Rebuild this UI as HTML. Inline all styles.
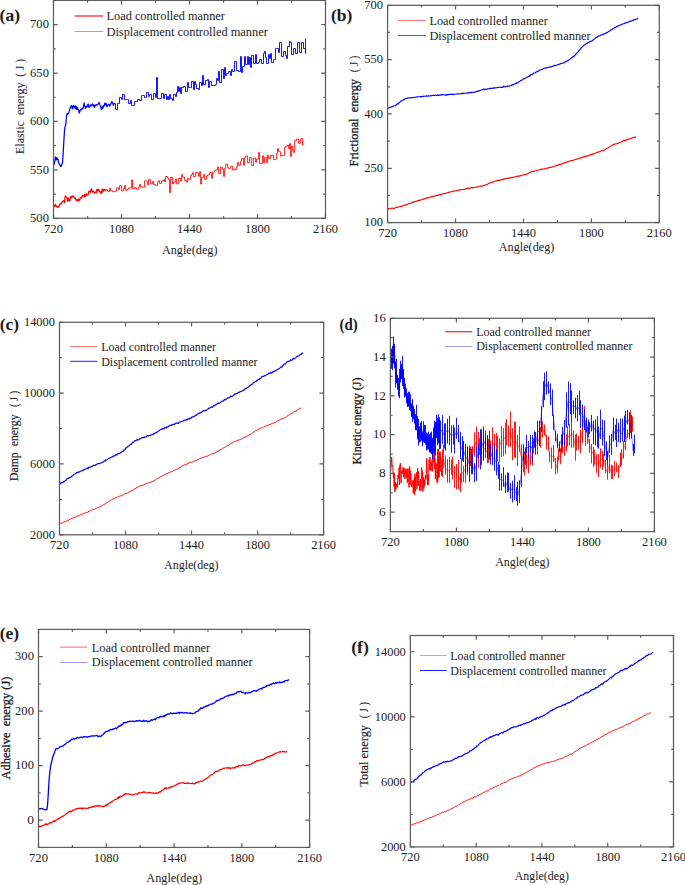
<!DOCTYPE html>
<html><head><meta charset="utf-8"><style>html,body{margin:0;padding:0;background:#fff;}svg{display:block;}</style></head>
<body><svg width="685" height="885" viewBox="0 0 685 885" font-family="&quot;Liberation Serif&quot;, serif" fill="#1c1c1c">
<rect width="685" height="885" fill="#fff"/>
<path d="M54.1 205.1 54.6 206.2 55.0 206.3 55.5 204.4 55.9 206.1 56.4 206.7 56.8 205.8 57.3 206.8 57.7 207.2 58.2 207.4 58.6 206.6 59.1 206.7 59.5 204.9 60.0 204.4 60.4 203.5 60.9 204.2 61.3 203.7 61.8 202.8 62.2 201.5 62.7 201.2 63.1 201.2 63.6 200.7 64.0 202.2 64.5 202.6 64.9 197.8 65.4 195.9 65.8 196.7 66.3 196.8 66.7 197.8 67.2 198.4 67.6 201.2 68.1 198.6 68.5 198.0 69.0 200.8 69.4 200.6 69.9 200.4 70.3 198.8 70.8 196.3 71.2 197.2 71.7 197.6 72.1 196.0 72.6 195.9 73.0 196.8 73.5 196.2 73.9 197.1 74.4 197.9 74.8 198.4 75.3 198.0 75.7 199.3 76.2 200.6 76.6 200.6 77.1 199.3 77.5 200.5 78.0 199.7 78.4 201.1 78.9 199.2 79.3 200.4 79.8 199.8 80.2 197.7 80.7 197.5 81.1 197.8 81.6 198.1 82.0 196.5 82.5 195.3 82.9 196.1 83.4 195.6 83.8 196.1 84.3 196.9 84.7 194.2 85.2 194.9 85.6 196.4 86.1 195.3 86.5 193.8 87.0 194.8 87.4 194.6 87.9 195.2 88.3 193.8 88.8 191.3 89.2 191.5 89.7 191.1 90.1 192.3 90.6 192.1 91.0 189.6 91.5 188.8 91.9 191.0 92.4 192.1 92.8 191.0 93.3 191.2 93.7 191.9 94.2 192.4 94.6 193.2 95.1 192.8 95.5 192.2 96.0 191.6 96.4 192.9 96.9 189.4 97.3 190.1 97.8 190.7 98.2 189.2 98.7 190.5 99.1 190.1 99.6 191.8 100.0 191.5 100.5 192.4 100.9 193.6 101.4 193.1 101.8 191.0 102.3 188.9 102.7 191.8 103.2 191.0 103.6 189.7 104.1 189.9 104.5 189.5 105.0 190.6 105.4 190.2 105.9 189.9 107.3 189.9" stroke="#ff0000" stroke-width="1.25" fill="none" stroke-linejoin="round"/>
<path d="M107.6 189.9 107.6 191.2 108.6 191.2 108.6 191.7 109.6 191.7 109.6 188.2 110.6 188.2 110.6 190.7 112.6 190.7 112.6 191.7 114.6 191.7 114.6 191.2 116.6 191.2 116.6 187.9 118.6 187.9 118.6 189.6 119.6 189.6 119.6 185.7 121.6 185.7 121.6 191.0 123.6 191.0 123.6 188.7 124.6 188.7 124.6 185.6 125.6 185.6 125.6 190.3 127.6 190.3 127.6 188.9 128.6 188.9 128.6 187.9 129.6 187.9 129.6 188.1 131.6 188.1 131.6 179.9 132.6 179.9 132.6 188.8 134.6 188.8 134.6 187.5 135.6 187.5 135.6 188.3 136.6 188.3 136.6 189.2 138.6 189.2 138.6 186.9 139.6 186.9 139.6 184.5 140.6 184.5 140.6 187.0 142.6 187.0 142.6 187.2 144.6 187.2 144.6 180.9 146.6 180.9 146.6 181.2 147.6 181.2 147.6 184.9 148.6 184.9 148.6 179.7 150.6 179.7 150.6 183.8 152.6 183.8 152.6 181.4 153.6 181.4 153.6 184.6 155.6 184.6 155.6 185.3 157.6 185.3 157.6 181.8 158.6 181.8 158.6 180.8 159.6 180.8 159.6 183.4 161.6 183.4 161.6 180.9 163.6 180.9 163.6 179.6 164.6 179.6 164.6 181.7 165.6 181.7 165.6 176.5 167.6 176.5 167.6 178.0 168.6 178.0 168.6 179.5 169.6 179.5 169.6 192.7 170.6 192.7 170.6 177.5 172.6 177.5 172.6 184.0 173.6 184.0 173.6 182.2 175.6 182.2 175.6 178.9 176.6 178.9 176.6 183.8 178.6 183.8 178.6 178.3 180.6 178.3 180.6 181.1 181.6 181.1 181.6 174.5 182.6 174.5 182.6 177.2 184.6 177.2 184.6 180.4 186.6 180.4 186.6 182.2 187.6 182.2 187.6 178.3 188.6 178.3 188.6 179.3 189.6 179.3 189.6 179.7 190.6 179.7 190.6 175.4 191.6 175.4 191.6 174.3 192.6 174.3 192.6 172.7 193.6 172.7 193.6 176.6 195.6 176.6 195.6 172.5 197.6 172.5 197.6 173.0 198.6 173.0 198.6 176.3 199.6 176.3 199.6 171.7 200.6 171.7 200.6 184.0 201.6 184.0 201.6 177.3 203.6 177.3 203.6 174.6 204.6 174.6 204.6 179.3 206.6 179.3 206.6 175.8 207.6 175.8 207.6 174.9 209.6 174.9 209.6 172.5 211.6 172.5 211.6 178.1 212.6 178.1 212.6 172.1 214.6 172.1 214.6 170.9 215.6 170.9 215.6 170.0 217.6 170.0 217.6 167.0 218.6 167.0 218.6 173.7 220.6 173.7 220.6 167.0 221.6 167.0 221.6 167.2 222.6 167.2 222.6 169.5 223.6 169.5 223.6 176.4 224.6 176.4 224.6 168.6 225.6 168.6 225.6 164.1 227.6 164.1 227.6 167.6 228.6 167.6 228.6 168.4 230.6 168.4 230.6 166.2 232.6 166.2 232.6 170.0 234.6 170.0 234.6 168.9 235.6 168.9 235.6 169.4 236.6 169.4 236.6 166.4 237.6 166.4 237.6 162.4 238.6 162.4 238.6 165.3 240.6 165.3 240.6 161.1 241.6 161.1 241.6 158.2 242.6 158.2 242.6 158.5 243.6 158.5 243.6 165.2 244.6 165.2 244.6 157.5 245.6 157.5 245.6 156.0 247.6 156.0 247.6 162.8 249.6 162.8 249.6 157.6 251.6 157.6 251.6 165.6 253.6 165.6 253.6 158.0 255.6 158.0 255.6 162.2 256.6 162.2 256.6 159.1 258.6 159.1 258.6 152.4 259.6 152.4 259.6 163.7 261.6 163.7 261.6 163.6 262.6 163.6 262.6 155.8 263.6 155.8 263.6 162.7 264.6 162.7 264.6 157.4 266.6 157.4 266.6 162.8 267.6 162.8 267.6 155.1 268.6 155.1 268.6 158.6 270.6 158.6 270.6 155.5 272.6 155.5 272.6 155.6 273.6 155.6 273.6 159.6 275.6 159.6 275.6 158.9 276.6 158.9 276.6 153.5 277.6 153.5 277.6 148.7 278.6 148.7 278.6 151.7 280.6 151.7 280.6 156.0 281.6 156.0 281.6 155.7 282.6 155.7 282.6 155.2 283.6 155.2 283.6 155.4 284.6 155.4 284.6 147.3 285.6 147.3 285.6 146.2 287.6 146.2 287.6 145.1 288.6 145.1 288.6 148.7 289.6 148.7 289.6 143.7 290.6 143.7 290.6 156.4 291.6 156.4 291.6 146.2 292.6 146.2 292.6 150.2 293.6 150.2 293.6 152.4 294.6 152.4 294.6 140.6 296.6 140.6 296.6 139.0 298.6 139.0 298.6 143.4 299.6 143.4 299.6 142.8 300.6 142.8 300.6 138.7 302.6 138.7 302.6 145.1 302.8 145.1 302.8 142.1" stroke="#ff0000" stroke-width="0.85" fill="none" stroke-linejoin="miter"/>
<path d="M54.0 164.9 54.5 162.8 54.9 161.0 55.4 156.8 55.8 159.4 56.3 159.8 56.7 157.7 57.2 158.3 57.6 159.5 58.1 159.6 58.5 162.3 59.0 163.1 59.4 164.2 59.9 165.0 60.3 166.3 60.8 165.7 61.2 166.0 61.7 164.5 62.1 164.3 62.6 161.9 63.0 155.6 63.5 147.8 63.9 139.9 64.4 132.6 64.8 127.7 65.3 125.9 65.7 125.1 66.2 119.2 66.6 115.7 67.1 113.3 67.5 114.3 68.0 113.5 68.4 113.7 68.9 112.8 69.3 111.0 69.8 109.5 70.2 107.5 70.7 107.8 71.1 105.9 71.6 105.6 72.0 106.4 72.5 108.9 72.9 107.1 73.4 105.6 73.8 105.4 74.3 107.3 74.7 106.9 75.2 108.7 75.6 105.8 76.1 108.1 76.5 109.4 77.0 107.0 77.4 107.8 77.9 109.7 78.3 109.4 78.8 110.5 79.2 113.1 79.7 111.9 80.1 110.6 80.6 109.3 81.0 110.1 81.5 109.2 81.9 108.7 82.4 108.3 82.8 109.0 83.3 107.1 83.7 105.2 84.2 102.8 84.6 106.0 85.1 106.3 85.5 108.4 86.0 107.7 86.4 106.2 86.9 106.9 87.3 106.5 87.8 104.7 88.2 104.0 88.7 107.1 89.1 107.0 89.6 107.0 90.0 106.0 90.5 104.8 90.9 106.1 91.4 105.7 91.8 104.6 92.3 104.8 92.7 103.9 93.2 104.8 93.6 106.6 94.1 105.1 94.5 107.1 95.0 105.6 95.4 105.8 95.9 104.7 96.3 104.8 96.8 105.2 97.2 104.8 97.7 104.3 98.1 104.0 98.6 103.6 99.0 102.4 99.5 103.4 99.9 104.9 100.4 106.4 100.8 107.0 101.3 109.7 101.7 108.5 102.2 106.7 102.6 108.7 103.1 106.0 103.5 107.0 104.0 105.1 104.4 105.6 104.9 102.9 105.3 104.9 105.8 104.8 106.2 103.6 106.7 106.3 107.1 106.7 107.6 106.0 108.0 104.6 108.5 104.6 108.9 104.4 109.4 105.4 109.8 106.1 110.3 104.6 110.7 103.8 111.2 103.3 111.6 101.9 112.1 101.9 112.5 102.5 113.0 103.8 113.4 105.4 113.9 103.5 115.3 103.5" stroke="#0000ff" stroke-width="1.25" fill="none" stroke-linejoin="round"/>
<path d="M115.5 103.5 115.5 109.5 117.5 109.5 117.5 103.5 119.5 103.5 119.5 97.5 121.5 97.5 121.5 99.5 122.5 99.5 122.5 94.5 124.5 94.5 124.5 99.5 126.5 99.5 126.5 99.5 127.5 99.5 127.5 99.5 128.5 99.5 128.5 103.5 130.5 103.5 130.5 100.5 131.5 100.5 131.5 105.5 132.5 105.5 132.5 105.5 134.5 105.5 134.5 101.5 135.5 101.5 135.5 101.5 137.5 101.5 137.5 99.5 139.5 99.5 139.5 100.5 141.5 100.5 141.5 95.5 142.5 95.5 142.5 95.5 144.5 95.5 144.5 97.5 145.5 97.5 145.5 97.5 146.5 97.5 146.5 92.5 148.5 92.5 148.5 96.5 149.5 96.5 149.5 94.5 151.5 94.5 151.5 99.5 153.5 99.5 153.5 93.5 155.5 93.5 155.5 97.5 156.5 97.5 156.5 77.5 157.5 77.5 157.5 98.5 159.5 98.5 159.5 98.5 161.5 98.5 161.5 93.5 163.5 93.5 163.5 98.5 164.5 98.5 164.5 94.5 166.5 94.5 166.5 99.5 167.5 99.5 167.5 96.5 168.5 96.5 168.5 99.5 169.5 99.5 169.5 94.5 170.5 94.5 170.5 98.5 172.5 98.5 172.5 100.5 173.5 100.5 173.5 94.5 175.5 94.5 175.5 96.5 176.5 96.5 176.5 92.5 177.5 92.5 177.5 86.5 178.5 86.5 178.5 91.5 179.5 91.5 179.5 87.5 180.5 87.5 180.5 93.5 181.5 93.5 181.5 87.5 183.5 87.5 183.5 86.5 185.5 86.5 185.5 91.5 187.5 91.5 187.5 82.5 188.5 82.5 188.5 87.5 190.5 87.5 190.5 87.5 191.5 87.5 191.5 81.5 193.5 81.5 193.5 89.5 194.5 89.5 194.5 81.5 195.5 81.5 195.5 84.5 196.5 84.5 196.5 88.5 198.5 88.5 198.5 89.5 199.5 89.5 199.5 82.5 201.5 82.5 201.5 85.5 202.5 85.5 202.5 75.5 203.5 75.5 203.5 84.5 205.5 84.5 205.5 80.5 207.5 80.5 207.5 79.5 208.5 79.5 208.5 87.5 209.5 87.5 209.5 81.5 211.5 81.5 211.5 85.5 213.5 85.5 213.5 85.5 215.5 85.5 215.5 84.5 216.5 84.5 216.5 78.5 217.5 78.5 217.5 80.5 218.5 80.5 218.5 71.5 219.5 71.5 219.5 82.5 221.5 82.5 221.5 69.5 223.5 69.5 223.5 78.5 224.5 78.5 224.5 67.5 225.5 67.5 225.5 75.5 226.5 75.5 226.5 73.5 228.5 73.5 228.5 71.5 230.5 71.5 230.5 75.5 231.5 75.5 231.5 69.5 232.5 69.5 232.5 71.5 234.5 71.5 234.5 61.5 236.5 61.5 236.5 70.5 238.5 70.5 238.5 71.5 240.5 71.5 240.5 56.5 241.5 56.5 241.5 72.5 242.5 72.5 242.5 66.5 244.5 66.5 244.5 56.5 245.5 56.5 245.5 64.5 247.5 64.5 247.5 56.5 248.5 56.5 248.5 64.5 249.5 64.5 249.5 57.5 250.5 57.5 250.5 67.5 251.5 67.5 251.5 55.5 253.5 55.5 253.5 63.5 255.5 63.5 255.5 54.5 256.5 54.5 256.5 63.5 258.5 63.5 258.5 62.5 259.5 62.5 259.5 59.5 261.5 59.5 261.5 63.5 263.5 63.5 263.5 53.5 264.5 53.5 264.5 51.5 265.5 51.5 265.5 57.5 266.5 57.5 266.5 63.5 268.5 63.5 268.5 54.5 269.5 54.5 269.5 58.5 270.5 58.5 270.5 53.5 271.5 53.5 271.5 62.5 273.5 62.5 273.5 59.5 275.5 59.5 275.5 48.5 276.5 48.5 276.5 48.5 278.5 48.5 278.5 52.5 279.5 52.5 279.5 42.5 281.5 42.5 281.5 56.5 283.5 56.5 283.5 51.5 285.5 51.5 285.5 55.5 286.5 55.5 286.5 58.5 287.5 58.5 287.5 46.5 289.5 46.5 289.5 41.5 290.5 41.5 290.5 42.5 291.5 42.5 291.5 54.5 293.5 54.5 293.5 48.5 295.5 48.5 295.5 53.5 297.5 53.5 297.5 42.5 299.5 42.5 299.5 52.5 301.5 52.5 301.5 42.5 303.5 42.5 303.5 48.5 305.5 48.5 305.5 53.5 305.5 53.5 305.5 38.5" stroke="#0000ff" stroke-width="0.9" fill="none" stroke-linejoin="miter"/>
<path d="M387.6 209.5 388.3 208.5 389.0 209.1 389.7 208.8 390.4 208.7 391.1 208.6 391.8 208.1 392.5 208.3 393.2 208.1 393.9 208.8 394.6 208.0 395.3 207.8 396.0 207.6 396.7 207.4 397.4 207.1 398.1 207.1 398.8 207.0 399.5 206.7 400.2 206.7 400.9 206.3 401.6 206.1 402.3 206.2 403.0 205.7 403.7 205.3 404.4 205.1 405.1 205.0 405.8 205.1 406.5 204.4 407.2 204.2 407.9 204.2 408.6 203.6 409.3 203.5 410.0 203.5 410.7 203.2 411.4 202.9 412.1 202.7 412.8 201.8 413.5 202.4 414.2 201.7 414.9 201.4 415.6 201.5 416.3 201.4 417.0 200.9 417.7 200.6 418.4 200.6 419.1 200.3 419.8 200.4 420.5 200.1 421.2 199.8 421.9 199.7 422.6 199.3 423.3 198.9 424.0 199.1 424.7 198.9 425.4 198.5 426.1 198.2 426.8 198.2 427.5 197.5 428.2 197.9 428.9 197.7 429.6 197.1 430.3 197.2 431.0 196.8 431.7 197.0 432.4 196.3 433.1 196.3 433.8 196.4 434.5 196.3 435.2 195.5 435.9 195.6 436.6 195.6 437.3 195.2 438.0 195.5 438.7 194.7 439.4 194.8 440.1 194.4 440.8 194.7 441.5 194.2 442.2 194.0 442.9 193.5 443.6 194.0 444.3 193.6 445.0 193.5 445.7 193.4 446.4 193.0 447.1 192.7 447.8 192.5 448.5 192.3 449.2 192.6 449.9 191.8 450.6 191.8 451.3 191.7 452.0 191.6 452.7 191.5 453.4 191.0 454.1 190.8 454.8 190.9 455.5 191.0 456.2 190.8 456.9 190.5 457.6 190.3 458.3 190.3 459.0 190.0 459.7 190.1 460.4 189.6 461.1 189.7 461.8 189.5 462.5 189.5 463.2 189.4 463.9 189.7 464.6 189.4 465.3 189.2 466.0 188.4 466.7 188.6 467.4 188.4 468.1 188.5 468.8 187.9 469.5 188.4 470.2 188.3 470.9 187.7 471.6 187.6 472.3 187.5 473.0 187.6 473.7 187.6 474.4 187.7 475.1 187.1 475.8 187.2 476.5 187.0 477.2 187.2 477.9 186.8 478.6 186.8 479.3 186.2 480.0 186.3 480.7 186.0 481.4 186.4 482.1 186.1 482.8 185.7 483.5 185.5 484.2 185.5 484.9 185.0 485.6 184.7 486.3 184.8 487.0 184.9 487.7 184.0 488.4 183.6 489.1 183.2 489.8 182.9 490.5 183.0 491.2 182.7 491.9 182.3 492.6 182.1 493.3 181.9 494.0 181.7 494.7 181.1 495.4 181.2 496.1 181.1 496.8 180.8 497.5 180.6 498.2 180.4 498.9 180.3 499.6 180.4 500.3 180.0 501.0 179.8 501.7 179.8 502.4 179.6 503.1 179.7 503.8 178.7 504.5 179.2 505.2 178.7 505.9 178.7 506.6 178.6 507.3 178.5 508.0 178.4 508.7 178.0 509.4 178.2 510.1 177.7 510.8 177.5 511.5 177.6 512.2 177.2 512.9 177.6 513.6 177.2 514.3 177.3 515.0 176.7 515.7 176.5 516.4 176.5 517.1 176.5 517.8 176.1 518.5 176.1 519.2 175.9 519.9 176.1 520.6 175.5 521.3 175.7 522.0 175.2 522.7 175.0 523.4 174.9 524.1 174.6 524.8 174.6 525.5 174.6 526.2 174.2 526.9 174.0 527.6 173.9 528.3 173.4 529.0 173.0 529.7 172.6 530.4 172.1 531.1 172.3 531.8 171.5 532.5 171.8 533.2 171.4 533.9 171.4 534.6 171.0 535.3 170.7 536.0 170.8 536.7 170.4 537.4 170.3 538.1 170.2 538.8 170.0 539.5 169.9 540.2 169.6 540.9 169.6 541.6 169.0 542.3 169.3 543.0 168.9 543.7 169.2 544.4 169.1 545.1 168.3 545.8 168.6 546.5 168.3 547.2 168.0 547.9 168.2 548.6 167.8 549.3 167.4 550.0 167.5 550.7 167.4 551.4 167.2 552.1 166.8 552.8 167.0 553.5 166.8 554.2 166.2 554.9 166.0 555.6 165.9 556.3 165.6 557.0 165.8 557.7 165.2 558.4 164.7 559.1 164.5 559.8 164.4 560.5 164.6 561.2 163.9 561.9 163.7 562.6 163.5 563.3 163.1 564.0 163.4 564.7 162.6 565.4 162.6 566.1 162.2 566.8 162.1 567.5 161.5 568.2 161.9 568.9 161.3 569.6 161.1 570.3 160.7 571.0 160.6 571.7 160.6 572.4 160.5 573.1 160.2 573.8 160.1 574.5 159.8 575.2 159.5 575.9 159.4 576.6 159.2 577.3 158.8 578.0 158.8 578.7 158.7 579.4 158.3 580.1 157.9 580.8 157.9 581.5 158.0 582.2 157.3 582.9 157.1 583.6 156.9 584.3 157.0 585.0 156.2 585.7 156.4 586.4 156.4 587.1 155.7 587.8 156.0 588.5 155.6 589.2 155.1 589.9 155.1 590.6 154.5 591.3 154.5 592.0 154.7 592.7 153.9 593.4 154.2 594.1 153.6 594.8 153.6 595.5 153.1 596.2 152.4 596.9 152.5 597.6 152.5 598.3 151.9 599.0 151.7 599.7 151.8 600.4 151.3 601.1 150.9 601.8 150.8 602.5 150.9 603.2 150.3 603.9 150.3 604.6 150.1 605.3 149.4 606.0 148.8 606.7 148.3 607.4 148.2 608.1 147.9 608.8 147.4 609.5 147.0 610.2 146.4 610.9 146.1 611.6 145.6 612.3 145.3 613.0 144.8 613.7 144.4 614.4 144.4 615.1 144.0 615.8 143.8 616.5 143.8 617.2 143.4 617.9 143.7 618.6 143.1 619.3 142.5 620.0 142.5 620.7 142.2 621.4 141.7 622.1 141.8 622.8 141.1 623.5 140.4 624.2 140.9 624.9 140.4 625.6 140.6 626.3 139.9 627.0 139.5 627.7 139.8 628.4 139.0 629.1 139.0 629.8 139.0 630.5 138.5 631.2 138.2 631.9 138.0 632.6 137.9 633.3 137.3 634.0 137.4 634.7 137.2 635.4 137.4 636.1 136.7" stroke="#ff0000" stroke-width="1.1" fill="none" stroke-linejoin="round"/>
<path d="M387.6 107.8 388.3 107.8 389.0 108.0 389.7 107.6 390.4 107.0 391.1 107.1 391.8 106.7 392.5 106.6 393.2 106.0 393.9 106.1 394.6 105.7 395.3 105.6 396.0 105.0 396.7 104.6 397.4 103.7 398.1 104.0 398.8 102.7 399.5 102.7 400.2 101.9 400.9 101.2 401.6 100.7 402.3 100.3 403.0 100.1 403.7 99.6 404.4 99.6 405.1 98.6 405.8 98.7 406.5 98.3 407.2 98.5 407.9 97.8 408.6 98.0 409.3 98.0 410.0 97.6 410.7 98.0 411.4 97.7 412.1 97.8 412.8 97.7 413.5 97.2 414.2 97.2 414.9 97.2 415.6 97.3 416.3 97.2 417.0 96.9 417.7 96.8 418.4 96.7 419.1 96.7 419.8 96.7 420.5 96.6 421.2 97.0 421.9 96.4 422.6 96.4 423.3 96.5 424.0 96.1 424.7 96.2 425.4 96.2 426.1 96.3 426.8 95.8 427.5 96.3 428.2 95.9 428.9 95.9 429.6 96.0 430.3 95.9 431.0 95.9 431.7 95.6 432.4 95.5 433.1 95.5 433.8 95.2 434.5 95.6 435.2 95.2 435.9 95.0 436.6 95.6 437.3 95.1 438.0 94.9 438.7 95.5 439.4 95.0 440.1 95.2 440.8 94.8 441.5 94.9 442.2 94.6 442.9 94.5 443.6 94.7 444.3 94.8 445.0 95.0 445.7 95.3 446.4 94.6 447.1 94.9 447.8 94.6 448.5 94.6 449.2 94.3 449.9 94.3 450.6 94.4 451.3 94.2 452.0 94.4 452.7 94.2 453.4 94.6 454.1 94.3 454.8 94.2 455.5 94.3 456.2 94.1 456.9 94.0 457.6 93.9 458.3 93.8 459.0 94.0 459.7 93.8 460.4 93.7 461.1 93.7 461.8 93.4 462.5 93.5 463.2 93.1 463.9 93.5 464.6 93.2 465.3 93.2 466.0 93.2 466.7 93.0 467.4 92.8 468.1 93.1 468.8 92.8 469.5 92.5 470.2 92.7 470.9 92.1 471.6 92.7 472.3 92.3 473.0 92.2 473.7 92.5 474.4 92.3 475.1 91.8 475.8 91.7 476.5 91.6 477.2 91.5 477.9 90.9 478.6 90.8 479.3 90.8 480.0 90.4 480.7 90.3 481.4 90.1 482.1 89.6 482.8 89.5 483.5 89.0 484.2 89.4 484.9 89.6 485.6 89.0 486.3 89.3 487.0 89.2 487.7 88.8 488.4 88.8 489.1 88.7 489.8 88.4 490.5 88.4 491.2 88.3 491.9 88.4 492.6 88.3 493.3 87.9 494.0 88.2 494.7 87.7 495.4 87.8 496.1 87.8 496.8 87.7 497.5 87.6 498.2 87.5 498.9 87.3 499.6 87.2 500.3 87.2 501.0 87.4 501.7 87.1 502.4 87.4 503.1 87.0 503.8 86.2 504.5 86.7 505.2 87.0 505.9 86.5 506.6 86.3 507.3 86.1 508.0 86.4 508.7 86.2 509.4 85.9 510.1 85.7 510.8 85.7 511.5 85.3 512.2 84.7 512.9 84.9 513.6 84.5 514.3 84.1 515.0 84.0 515.7 83.6 516.4 82.6 517.1 83.2 517.8 82.7 518.5 82.1 519.2 81.6 519.9 81.3 520.6 80.6 521.3 80.5 522.0 79.9 522.7 79.5 523.4 79.0 524.1 78.6 524.8 78.6 525.5 78.2 526.2 77.7 526.9 77.2 527.6 76.7 528.3 76.6 529.0 76.4 529.7 75.4 530.4 75.6 531.1 74.6 531.8 74.5 532.5 74.3 533.2 73.5 533.9 73.1 534.6 73.0 535.3 72.7 536.0 72.0 536.7 72.0 537.4 71.2 538.1 71.3 538.8 70.6 539.5 70.3 540.2 70.0 540.9 69.7 541.6 69.7 542.3 69.5 543.0 69.0 543.7 68.6 544.4 68.2 545.1 68.1 545.8 68.1 546.5 67.9 547.2 67.7 547.9 67.6 548.6 67.5 549.3 66.9 550.0 66.8 550.7 67.1 551.4 66.8 552.1 66.4 552.8 66.5 553.5 65.9 554.2 65.8 554.9 65.3 555.6 65.6 556.3 65.2 557.0 65.2 557.7 64.8 558.4 64.5 559.1 64.2 559.8 64.2 560.5 63.6 561.2 63.4 561.9 63.2 562.6 63.1 563.3 62.8 564.0 62.8 564.7 62.1 565.4 62.0 566.1 61.3 566.8 61.2 567.5 60.7 568.2 60.6 568.9 59.9 569.6 59.2 570.3 59.0 571.0 58.4 571.7 57.7 572.4 57.2 573.1 56.5 573.8 56.7 574.5 55.6 575.2 55.2 575.9 54.1 576.6 53.4 577.3 52.7 578.0 51.9 578.7 51.2 579.4 49.9 580.1 49.4 580.8 48.8 581.5 47.5 582.2 47.1 582.9 46.0 583.6 45.6 584.3 45.0 585.0 44.8 585.7 44.0 586.4 43.7 587.1 43.5 587.8 42.7 588.5 42.5 589.2 42.0 589.9 41.6 590.6 41.5 591.3 41.0 592.0 41.0 592.7 40.3 593.4 39.8 594.1 39.1 594.8 38.6 595.5 38.2 596.2 37.2 596.9 37.5 597.6 36.6 598.3 36.1 599.0 35.9 599.7 35.8 600.4 35.6 601.1 35.0 601.8 34.9 602.5 34.5 603.2 34.1 603.9 34.1 604.6 33.8 605.3 33.2 606.0 33.4 606.7 32.5 607.4 32.5 608.1 31.8 608.8 31.5 609.5 31.0 610.2 30.8 610.9 29.9 611.6 29.7 612.3 29.5 613.0 28.6 613.7 28.3 614.4 28.0 615.1 27.3 615.8 27.2 616.5 26.6 617.2 26.5 617.9 26.0 618.6 25.5 619.3 25.7 620.0 25.1 620.7 24.8 621.4 24.4 622.1 24.2 622.8 24.0 623.5 23.8 624.2 23.7 624.9 22.9 625.6 22.9 626.3 22.9 627.0 22.4 627.7 22.2 628.4 22.1 629.1 21.6 629.8 21.4 630.5 21.0 631.2 21.1 631.9 20.8 632.6 20.2 633.3 20.2 634.0 19.6 634.7 19.8 635.4 19.6 636.1 19.2 636.8 19.0 637.5 18.6 638.2 19.0" stroke="#0000ff" stroke-width="1.15" fill="none" stroke-linejoin="round"/>
<path d="M59.5 523.4 60.2 523.1 60.9 523.2 61.6 523.1 62.3 523.0 63.0 522.5 63.7 522.0 64.4 521.7 65.1 521.8 65.8 521.7 66.5 521.0 67.2 520.4 67.9 520.1 68.6 520.5 69.3 519.8 70.0 519.0 70.7 519.1 71.4 518.5 72.1 518.4 72.8 518.1 73.5 517.8 74.2 517.8 74.9 517.3 75.6 516.9 76.3 516.8 77.0 516.7 77.7 515.7 78.4 515.8 79.1 515.3 79.8 515.2 80.5 514.7 81.2 514.7 81.9 514.4 82.6 514.0 83.3 513.6 84.0 513.4 84.7 513.0 85.4 512.6 86.1 512.7 86.8 512.1 87.5 512.4 88.2 512.0 88.9 511.0 89.6 511.3 90.3 510.6 91.0 510.6 91.7 510.4 92.4 509.6 93.1 509.7 93.8 509.4 94.5 509.4 95.2 508.6 95.9 508.8 96.6 508.0 97.3 507.9 98.0 507.5 98.7 507.7 99.4 507.1 100.1 507.3 100.8 506.4 101.5 506.1 102.2 505.7 102.9 504.9 103.6 504.6 104.3 504.6 105.0 503.7 105.7 503.4 106.4 502.9 107.1 502.6 107.8 501.9 108.5 501.6 109.2 501.2 109.9 500.8 110.6 500.2 111.3 500.2 112.0 499.3 112.7 499.0 113.4 498.6 114.1 498.8 114.8 498.2 115.5 497.7 116.2 497.4 116.9 497.5 117.6 496.8 118.3 496.5 119.0 496.7 119.7 495.9 120.4 495.9 121.1 495.7 121.8 495.3 122.5 495.1 123.2 495.1 123.9 494.4 124.6 493.9 125.3 493.5 126.0 493.6 126.7 493.2 127.4 493.1 128.1 492.5 128.8 492.2 129.5 491.8 130.2 491.4 130.9 491.2 131.6 490.7 132.3 490.4 133.0 490.4 133.7 489.6 134.4 488.7 135.1 489.1 135.8 488.3 136.5 487.6 137.2 487.7 137.9 487.1 138.6 486.6 139.3 486.2 140.0 485.8 140.7 485.8 141.4 485.8 142.1 485.1 142.8 485.1 143.5 485.2 144.2 484.2 144.9 484.3 145.6 483.9 146.3 483.5 147.0 483.2 147.7 483.2 148.4 483.1 149.1 482.6 149.8 482.5 150.5 482.4 151.2 482.0 151.9 481.8 152.6 481.4 153.3 481.1 154.0 481.0 154.7 480.4 155.4 479.9 156.1 479.6 156.8 478.8 157.5 478.5 158.2 478.3 158.9 477.9 159.6 477.7 160.3 476.9 161.0 476.2 161.7 476.6 162.4 476.1 163.1 475.2 163.8 475.5 164.5 474.8 165.2 474.0 165.9 474.1 166.6 473.7 167.3 473.9 168.0 473.0 168.7 472.9 169.4 472.6 170.1 472.2 170.8 471.8 171.5 471.7 172.2 471.7 172.9 471.2 173.6 470.5 174.3 470.2 175.0 470.2 175.7 469.6 176.4 469.3 177.1 468.7 177.8 469.2 178.5 468.6 179.2 467.7 179.9 467.8 180.6 467.5 181.3 466.1 182.0 466.1 182.7 465.7 183.4 465.6 184.1 465.0 184.8 464.6 185.5 464.3 186.2 464.5 186.9 464.2 187.6 463.3 188.3 462.9 189.0 463.5 189.7 462.4 190.4 462.3 191.1 462.2 191.8 462.1 192.5 462.0 193.2 461.6 193.9 461.0 194.6 461.1 195.3 460.7 196.0 460.9 196.7 460.1 197.4 459.5 198.1 459.3 198.8 459.6 199.5 458.8 200.2 458.1 200.9 458.2 201.6 458.0 202.3 458.0 203.0 457.2 203.7 457.3 204.4 457.1 205.1 456.5 205.8 456.3 206.5 456.5 207.2 456.2 207.9 455.8 208.6 455.4 209.3 455.3 210.0 454.7 210.7 454.4 211.4 454.0 212.1 453.9 212.8 453.6 213.5 454.1 214.2 453.0 214.9 453.1 215.6 452.8 216.3 452.1 217.0 452.1 217.7 450.9 218.4 451.1 219.1 450.9 219.8 449.7 220.5 449.6 221.2 449.7 221.9 448.9 222.6 448.3 223.3 448.1 224.0 447.6 224.7 447.5 225.4 447.0 226.1 446.4 226.8 445.9 227.5 445.6 228.2 445.6 228.9 444.9 229.6 444.5 230.3 443.9 231.0 443.3 231.7 443.0 232.4 443.0 233.1 442.5 233.8 441.9 234.5 441.4 235.2 441.5 235.9 441.0 236.6 440.7 237.3 440.4 238.0 440.3 238.7 440.0 239.4 439.9 240.1 439.6 240.8 439.4 241.5 438.9 242.2 438.3 242.9 438.1 243.6 438.0 244.3 437.4 245.0 437.3 245.7 437.2 246.4 436.3 247.1 435.7 247.8 436.1 248.5 435.4 249.2 435.1 249.9 434.2 250.6 434.5 251.3 433.8 252.0 433.2 252.7 432.7 253.4 432.3 254.1 431.8 254.8 431.3 255.5 430.7 256.2 430.9 256.9 430.2 257.6 429.8 258.3 429.5 259.0 428.5 259.7 428.9 260.4 428.4 261.1 428.1 261.8 427.9 262.5 427.3 263.2 427.5 263.9 426.8 264.6 426.5 265.3 426.2 266.0 426.1 266.7 426.0 267.4 425.4 268.1 424.8 268.8 425.2 269.5 424.4 270.2 424.6 270.9 424.0 271.6 423.6 272.3 423.3 273.0 423.3 273.7 423.1 274.4 422.5 275.1 422.5 275.8 422.4 276.5 421.6 277.2 421.0 277.9 420.7 278.6 420.3 279.3 420.1 280.0 419.7 280.7 419.2 281.4 419.4 282.1 418.2 282.8 418.2 283.5 418.7 284.2 418.1 284.9 417.6 285.6 417.2 286.3 417.1 287.0 416.4 287.7 415.9 288.4 415.1 289.1 415.0 289.8 414.4 290.5 414.0 291.2 413.5 291.9 413.2 292.6 412.7 293.3 412.6 294.0 411.6 294.7 411.5 295.4 411.5 296.1 410.6 296.8 410.5 297.5 410.0 298.2 409.7 298.9 409.2 299.6 408.3 300.3 408.3 301.0 408.1" stroke="#ff0000" stroke-width="1.0" fill="none" stroke-linejoin="round"/>
<path d="M59.5 484.1 60.2 484.0 60.9 482.4 61.6 482.8 62.3 482.7 63.0 482.4 63.7 481.7 64.4 481.5 65.1 480.6 65.8 480.2 66.5 479.7 67.2 478.8 67.9 478.4 68.6 478.3 69.3 477.5 70.0 477.6 70.7 477.1 71.4 476.8 72.1 475.8 72.8 475.7 73.5 474.6 74.2 474.2 74.9 474.0 75.6 473.7 76.3 472.8 77.0 472.4 77.7 472.6 78.4 471.9 79.1 472.2 79.8 471.7 80.5 471.3 81.2 471.0 81.9 470.9 82.6 470.3 83.3 470.3 84.0 469.6 84.7 469.3 85.4 468.9 86.1 469.0 86.8 468.5 87.5 467.9 88.2 468.5 88.9 467.4 89.6 467.2 90.3 467.1 91.0 467.2 91.7 466.3 92.4 466.3 93.1 465.8 93.8 465.1 94.5 465.5 95.2 465.3 95.9 464.7 96.6 464.5 97.3 463.9 98.0 463.6 98.7 463.7 99.4 463.7 100.1 463.1 100.8 463.0 101.5 462.9 102.2 462.3 102.9 462.1 103.6 462.0 104.3 460.8 105.0 461.0 105.7 459.8 106.4 460.1 107.1 459.7 107.8 459.1 108.5 458.5 109.2 458.4 109.9 457.9 110.6 457.7 111.3 457.1 112.0 457.1 112.7 456.3 113.4 456.2 114.1 455.8 114.8 455.9 115.5 454.7 116.2 454.7 116.9 454.9 117.6 454.0 118.3 453.5 119.0 453.6 119.7 453.1 120.4 453.0 121.1 452.1 121.8 452.0 122.5 451.6 123.2 451.2 123.9 450.0 124.6 450.2 125.3 448.8 126.0 448.0 126.7 447.5 127.4 447.1 128.1 446.3 128.8 445.9 129.5 445.4 130.2 444.7 130.9 444.0 131.6 444.2 132.3 442.5 133.0 442.2 133.7 442.1 134.4 441.4 135.1 440.6 135.8 440.7 136.5 440.3 137.2 439.4 137.9 440.0 138.6 439.8 139.3 439.4 140.0 438.6 140.7 438.5 141.4 437.8 142.1 438.0 142.8 437.5 143.5 437.6 144.2 437.1 144.9 437.3 145.6 437.0 146.3 436.9 147.0 435.8 147.7 435.5 148.4 436.0 149.1 435.4 149.8 435.5 150.5 435.2 151.2 434.9 151.9 434.8 152.6 434.4 153.3 434.1 154.0 433.3 154.7 433.7 155.4 432.9 156.1 432.8 156.8 432.1 157.5 431.9 158.2 431.2 158.9 430.8 159.6 430.4 160.3 429.7 161.0 429.4 161.7 429.2 162.4 428.8 163.1 428.3 163.8 429.0 164.5 427.7 165.2 427.6 165.9 428.1 166.6 426.9 167.3 427.1 168.0 426.8 168.7 426.2 169.4 425.6 170.1 425.3 170.8 425.5 171.5 425.3 172.2 424.3 172.9 424.7 173.6 424.2 174.3 424.4 175.0 423.9 175.7 423.3 176.4 423.2 177.1 423.0 177.8 423.2 178.5 423.4 179.2 422.3 179.9 422.0 180.6 421.9 181.3 421.4 182.0 421.4 182.7 421.1 183.4 420.7 184.1 420.2 184.8 420.2 185.5 420.2 186.2 419.7 186.9 419.9 187.6 419.4 188.3 418.8 189.0 419.1 189.7 418.0 190.4 418.3 191.1 418.2 191.8 417.2 192.5 416.9 193.2 416.9 193.9 416.7 194.6 416.0 195.3 415.6 196.0 415.4 196.7 414.8 197.4 414.0 198.1 413.9 198.8 413.6 199.5 412.8 200.2 413.0 200.9 412.3 201.6 412.4 202.3 411.3 203.0 411.1 203.7 410.6 204.4 411.1 205.1 410.7 205.8 410.4 206.5 410.1 207.2 409.6 207.9 409.2 208.6 408.1 209.3 408.4 210.0 407.8 210.7 407.5 211.4 406.8 212.1 407.3 212.8 406.6 213.5 405.7 214.2 406.0 214.9 405.4 215.6 404.8 216.3 404.6 217.0 404.1 217.7 403.3 218.4 403.1 219.1 403.3 219.8 402.9 220.5 402.5 221.2 401.6 221.9 401.4 222.6 401.2 223.3 401.0 224.0 400.1 224.7 399.6 225.4 399.9 226.1 399.2 226.8 398.6 227.5 398.1 228.2 397.8 228.9 398.0 229.6 397.5 230.3 396.7 231.0 396.0 231.7 396.6 232.4 396.2 233.1 395.7 233.8 395.2 234.5 394.0 235.2 393.9 235.9 394.1 236.6 393.5 237.3 393.3 238.0 392.7 238.7 392.3 239.4 392.3 240.1 391.7 240.8 391.5 241.5 391.2 242.2 390.8 242.9 390.7 243.6 390.4 244.3 389.2 245.0 389.1 245.7 388.5 246.4 388.5 247.1 387.5 247.8 387.5 248.5 387.0 249.2 386.5 249.9 385.5 250.6 385.2 251.3 384.4 252.0 384.3 252.7 383.9 253.4 382.7 254.1 382.3 254.8 382.0 255.5 381.4 256.2 381.5 256.9 380.5 257.6 380.2 258.3 379.3 259.0 379.6 259.7 378.8 260.4 378.5 261.1 377.9 261.8 376.8 262.5 376.5 263.2 376.2 263.9 376.3 264.6 375.6 265.3 375.5 266.0 375.1 266.7 374.7 267.4 374.5 268.1 374.0 268.8 373.1 269.5 373.0 270.2 373.4 270.9 372.3 271.6 372.8 272.3 372.6 273.0 371.6 273.7 371.7 274.4 370.9 275.1 371.2 275.8 370.4 276.5 369.9 277.2 369.7 277.9 369.3 278.6 368.8 279.3 368.5 280.0 367.9 280.7 367.2 281.4 367.1 282.1 366.9 282.8 365.6 283.5 364.8 284.2 364.2 284.9 364.1 285.6 363.3 286.3 362.9 287.0 361.9 287.7 361.7 288.4 361.3 289.1 361.5 289.8 360.8 290.5 359.8 291.2 360.3 291.9 360.1 292.6 359.8 293.3 358.2 294.0 358.8 294.7 358.6 295.4 358.1 296.1 357.4 296.8 356.5 297.5 356.4 298.2 356.0 298.9 355.7 299.6 355.2 300.3 354.5 301.0 354.4 301.7 353.4 302.4 353.2 303.1 353.1" stroke="#0000ff" stroke-width="1.2" fill="none" stroke-linejoin="round"/>
<path d="M390.5 471.7 390.8 470.3 391.2 464.1 391.5 457.1 391.8 457.5 392.1 466.4 392.5 465.2 392.8 466.1 393.1 472.8 393.5 478.0 393.8 472.4 394.1 486.8 394.5 474.2 394.8 492.0 395.1 489.6 395.4 482.2 395.8 489.8 396.1 484.8 396.4 486.3 396.8 483.6 397.1 487.0 397.4 487.5 397.8 477.6 398.1 474.8 398.4 478.6 398.7 476.3 399.1 467.7 399.4 485.0 399.7 465.4 400.1 464.3 400.4 463.1 400.7 473.1 401.1 483.0 401.4 474.4 401.7 470.7 402.0 473.7 402.4 471.3 402.7 473.7 403.0 467.3 403.4 474.9 403.7 477.3 404.0 467.8 404.4 472.7 404.7 475.9 405.0 479.0 405.3 473.5 405.7 469.0 406.0 468.5 406.3 477.1 406.7 471.4 407.0 469.6 407.3 482.8 407.7 473.1 408.0 468.4 408.3 473.3 408.6 477.7 409.0 487.4 409.3 473.7 409.6 466.4 410.0 474.8 410.3 484.9 410.6 470.9 411.0 475.3 411.3 483.9 411.6 486.8 411.9 487.2 412.3 485.4 412.6 481.6 412.9 480.2 413.3 493.3 413.6 481.0 413.9 493.0 414.3 477.8 414.6 495.0 414.9 473.7 415.2 491.4 415.6 477.4 415.9 478.0 416.2 477.9 416.6 472.4 416.9 489.3 417.2 482.4 417.6 468.1 417.9 480.5 418.2 485.8 418.5 471.3 418.9 481.7 419.2 481.4 419.5 488.8 419.9 490.8 420.2 484.8 420.5 479.0 420.9 490.5 421.2 488.0 421.5 467.8 421.8 469.7 422.2 470.3 422.5 472.1 422.8 491.5 423.2 477.0 423.5 480.1 423.8 488.5 424.2 483.1 424.5 479.8 424.8 485.5 425.1 477.5 425.5 475.0 425.8 479.5 426.1 478.4 426.5 467.0 426.8 458.4 427.1 466.3 427.5 484.5 427.8 474.7 428.1 485.2 428.4 481.7 428.8 473.6 429.1 459.7 429.4 469.9 429.8 468.0 430.1 457.0 430.4 469.7 430.8 468.3 431.1 470.9 431.4 462.1 431.7 465.7 432.1 460.2 432.4 471.4 432.7 466.2 433.1 450.6 433.4 459.9 433.7 462.1 434.1 460.6 434.4 448.7 434.7 469.0 435.0 457.9 435.4 479.0 435.7 462.3 436.0 464.2 436.4 464.2 436.7 466.8 437.0 482.9 437.4 465.0 437.7 481.4 438.0 477.2 438.3 460.2 438.7 476.1 439.0 476.4 439.3 477.3 439.7 452.8 440.0 463.5 440.3 457.5 440.7 457.9 441.0 457.8 441.3 460.3 441.6 475.8 442.0 471.1" stroke="#ff0000" stroke-width="1.0" fill="none" stroke-linejoin="round"/>
<path d="M437.5 449.1V480.6M437.5 452.5V477.2M438.5 449.1V477.6M439.5 451.8V468.6M440.5 451.9V471.6M442.5 449.6V477.0M443.5 444.6V468.0M445.5 455.7V474.4M447.5 459.1V482.6M449.5 457.0V483.0M451.5 459.5V474.8M452.5 456.5V479.4M454.5 466.1V487.7M456.5 464.0V489.3M458.5 460.1V489.0M460.5 473.3V492.2M461.5 457.7V483.2M463.5 465.8V482.1M465.5 461.0V482.8M467.5 447.3V475.2M469.5 445.5V471.3M470.5 446.4V466.0M472.5 446.1V470.4M474.5 432.2V456.7M476.5 426.6V449.5M478.5 432.0V467.9M479.5 437.9V454.8M481.5 433.5V455.0M483.5 434.4V461.2M485.5 438.4V458.1M487.5 436.2V463.3M488.5 438.9V462.7M490.5 440.7V456.6M492.5 427.2V456.3M494.5 433.7V460.2M496.5 432.8V457.8M497.5 436.1V461.4M499.5 438.2V462.1M501.5 426.1V456.8M503.5 428.2V456.2M505.5 422.6V454.1M506.5 419.0V445.2M508.5 425.3V446.8M510.5 411.4V446.8M512.5 428.3V460.3M514.5 421.9V457.5M515.5 421.7V458.1M517.5 435.0V466.1M519.5 426.4V452.1M521.5 444.3V473.6M523.5 446.6V472.2M524.5 451.5V475.8M526.5 454.0V468.9M528.5 454.3V473.1M530.5 451.2V464.9M532.5 450.6V465.4M533.5 438.5V453.3M535.5 438.4V451.0M537.5 437.9V454.3M539.5 428.2V442.3M540.5 426.9V447.6M542.5 421.3V437.4M544.5 424.6V435.7M546.5 434.5V449.5M548.5 436.5V450.7M549.5 451.3V462.3M551.5 447.6V468.7M553.5 445.2V462.2M555.5 457.9V474.6M557.5 456.6V473.1M558.5 448.6V460.3M560.5 448.3V464.2M562.5 439.6V453.4M564.5 440.6V455.8M566.5 434.1V451.3M567.5 426.3V446.6M569.5 423.8V445.3M571.5 419.5V447.6M573.5 430.3V447.7M575.5 434.5V460.6M576.5 433.5V450.6M578.5 436.0V449.8M580.5 429.7V453.5M582.5 419.9V442.9M584.5 406.1V428.2M585.5 422.4V446.0M587.5 427.3V443.9M589.5 438.8V452.7M591.5 444.0V463.4M593.5 446.9V466.9M594.5 449.8V464.8M596.5 454.2V472.8M598.5 454.2V476.9M600.5 448.3V467.7M602.5 450.5V470.1M603.5 453.5V466.7M605.5 460.1V473.1M607.5 463.9V479.6M609.5 454.8V473.5M611.5 464.5V479.0M612.5 465.6V479.1M614.5 460.9V476.2M616.5 462.4V472.2M618.5 465.2V478.0M620.5 452.5V467.0M621.5 449.1V465.5M623.5 440.9V458.6M625.5 435.1V450.1M627.5 429.3V437.9M629.5 428.3V439.5M630.5 410.4V432.9M632.5 416.6V431.7" stroke="#ff0000" stroke-width="0.9" fill="none"/>
<path d="M437.0 465.5 437.8 461.7 438.6 463.5 439.4 460.3 440.2 461.4 442.0 464.2 443.8 460.2 445.6 468.3 447.4 471.1 449.2 470.7 451.0 468.7 452.8 470.9 454.6 472.0 456.4 473.2 458.2 475.7 460.0 480.1 461.8 473.2 463.6 472.0 465.4 468.3 467.2 463.2 469.0 458.2 470.8 457.4 472.6 453.2 474.4 446.7 476.2 441.4 478.0 450.2 479.8 446.0 481.6 446.6 483.4 448.2 485.2 449.2 487.0 452.0 488.8 448.4 490.6 450.7 492.4 443.3 494.2 445.1 496.0 444.8 497.8 447.5 499.6 445.8 501.4 441.1 503.2 439.9 505.0 437.4 506.8 435.4 508.6 437.3 510.4 431.5 512.2 439.6 514.0 442.7 515.8 440.9 517.6 447.7 519.4 444.7 521.2 456.6 523.0 460.0 524.8 462.2 526.6 462.4 528.4 460.7 530.2 456.1 532.0 457.8 533.8 447.3 535.6 446.2 537.4 444.8 539.2 437.7 541.0 437.0 542.8 432.9 544.6 429.0 546.4 440.4 548.2 445.3 550.0 455.5 551.8 457.0 553.6 455.7 555.4 462.8 557.2 468.4 559.0 455.3 560.8 458.0 562.6 448.9 564.4 450.7 566.2 442.8 568.0 436.6 569.8 436.9 571.6 433.4 573.4 435.7 575.2 445.8 577.0 441.0 578.8 441.5 580.6 440.9 582.4 430.4 584.2 416.6 586.0 429.9 587.8 437.0 589.6 445.8 591.4 449.7 593.2 454.5 595.0 456.1 596.8 462.1 598.6 465.4 600.4 459.4 602.2 459.3 604.0 459.1 605.8 469.0 607.6 472.2 609.4 464.3 611.2 473.0 613.0 470.4 614.8 469.5 616.6 468.7 618.4 472.1 620.2 460.9 622.0 459.1 623.8 449.1 625.6 442.3 627.4 433.7 629.2 433.6 631.0 420.2 632.8 426.5" stroke="#ff0000" stroke-width="0.5" fill="none" stroke-linejoin="round"/>
<path d="M390.5 346.9V367.1M390.5 348.9V369.6M391.5 348.5V362.6M391.5 354.0V368.8M392.5 350.1V370.3M392.5 345.8V365.2M393.5 336.4V363.6M393.5 343.9V362.5M394.5 346.4V364.7M394.5 343.7V368.4M394.5 346.5V363.2M395.5 361.5V377.8M395.5 362.0V387.6M396.5 358.9V382.2M396.5 371.7V383.2M397.5 374.9V389.7M397.5 376.1V388.6M398.5 377.8V394.0M398.5 384.2V396.5M399.5 386.7V398.3M399.5 378.0V389.3M399.5 369.0V382.2M400.5 366.0V380.7M400.5 360.7V382.5M401.5 363.8V377.3M401.5 364.1V379.0M402.5 355.8V381.6M402.5 365.8V385.9M403.5 369.0V386.5M403.5 370.0V383.5M403.5 376.5V389.0M404.5 377.9V394.7M404.5 386.5V397.6M405.5 383.8V396.4M405.5 389.3V395.9M406.5 388.2V403.1M406.5 393.5V402.8M407.5 393.7V405.1M407.5 393.2V407.0M408.5 395.3V406.6M408.5 391.7V404.7M408.5 399.3V405.6M409.5 400.3V410.0M409.5 391.7V407.0M410.5 394.0V408.6M410.5 404.1V411.2M411.5 403.9V416.9M411.5 403.5V416.1M412.5 399.9V415.8M412.5 399.2V414.9M412.5 405.3V422.2M413.5 408.6V419.1M413.5 405.9V418.8M414.5 413.6V423.5M414.5 409.0V422.6M415.5 413.9V429.5M415.5 420.9V430.1M416.5 419.6V430.4M416.5 404.8V426.8M417.5 416.1V429.1M417.5 422.7V435.9M417.5 419.6V439.5M418.5 419.0V438.8M418.5 426.1V445.6M419.5 429.9V442.7M419.5 426.3V434.8M420.5 422.6V441.9M420.5 428.2V437.4M421.5 424.1V440.0M421.5 420.8V436.3M421.5 426.4V440.7M422.5 431.6V445.1M422.5 432.9V446.3M423.5 421.2V438.2M423.5 432.8V442.1M424.5 425.0V443.1M424.5 427.3V443.0M425.5 425.1V439.7M425.5 435.5V444.7M426.5 432.3V447.3M426.5 434.8V450.5M426.5 433.2V444.3M427.5 433.4V449.7M427.5 436.7V448.6M428.5 434.7V449.5M428.5 431.6V444.6M429.5 434.0V452.0M429.5 443.7V452.5M430.5 432.6V449.2M430.5 439.5V452.9M430.5 437.6V451.5M431.5 440.2V451.0M431.5 431.5V454.0M432.5 437.7V455.7M432.5 440.3V459.4M433.5 430.4V445.6M433.5 427.4V451.4M434.5 423.8V453.5M434.5 420.6V443.4M435.5 425.4V455.7M435.5 425.7V450.6M435.5 421.9V443.7M436.5 414.6V437.7M436.5 415.0V438.1M437.5 417.9V445.4M437.5 422.7V441.1M438.5 419.6V442.4M438.5 414.0V443.6M439.5 417.3V441.7M439.5 420.0V449.4M439.5 422.4V443.4M440.5 420.5V448.7M442.5 415.1V443.8M444.5 423.6V448.5M445.5 423.3V450.5M447.5 418.8V443.4M449.5 415.7V445.2M451.5 425.4V452.8M453.5 424.7V444.7M454.5 427.5V453.5M456.5 417.9V438.9M458.5 424.8V442.1M460.5 431.9V459.2M462.5 436.2V460.6M463.5 440.9V462.1M465.5 444.0V473.1M467.5 446.4V472.4M469.5 448.2V481.9M471.5 448.8V474.2M472.5 454.4V474.2M474.5 463.1V482.1M476.5 446.9V480.8M478.5 443.7V458.0M480.5 429.3V469.4M481.5 429.2V464.8M483.5 426.4V458.6M485.5 430.6V451.6M487.5 434.9V457.8M489.5 430.9V459.8M490.5 444.5V464.4M492.5 448.5V465.2M494.5 444.7V470.8M496.5 449.5V475.3M498.5 461.9V478.8M499.5 464.6V490.5M501.5 473.4V490.7M503.5 467.2V486.7M505.5 475.2V493.0M507.5 472.5V492.4M508.5 472.7V491.8M510.5 482.7V498.9M512.5 480.7V502.4M514.5 475.2V500.1M516.5 487.2V501.2M517.5 481.8V505.8M519.5 480.3V502.9M521.5 464.7V486.9M523.5 444.1V460.9M525.5 447.3V464.9M526.5 434.7V453.6M528.5 441.1V457.7M530.5 435.0V451.9M532.5 434.9V462.0M534.5 431.2V447.7M535.5 432.0V454.6M537.5 420.8V444.0M539.5 420.8V445.9M541.5 406.1V431.9M543.5 381.3V407.3M544.5 372.6V400.2M546.5 371.2V394.5M548.5 381.4V393.7M550.5 383.5V405.3M552.5 389.6V416.1M553.5 415.4V430.1M555.5 430.6V441.4M557.5 433.7V448.3M559.5 441.5V452.1M561.5 434.4V452.1M562.5 426.8V444.8M564.5 420.0V444.8M566.5 392.4V427.7M568.5 381.5V425.6M570.5 383.1V414.3M571.5 390.6V421.0M573.5 400.3V413.9M575.5 397.8V418.3M577.5 395.1V421.3M579.5 390.8V415.3M580.5 400.2V428.0M582.5 404.6V427.5M584.5 409.3V430.1M586.5 417.4V432.4M588.5 419.5V437.0M589.5 421.9V433.8M591.5 414.9V431.5M593.5 420.7V444.3M595.5 419.3V445.2M597.5 416.0V447.3M598.5 426.5V448.6M600.5 409.7V439.1M602.5 419.5V445.5M604.5 420.2V456.2M606.5 441.4V460.1M607.5 451.0V465.1M609.5 435.5V452.9M611.5 434.0V455.1M613.5 417.5V441.5M615.5 424.6V439.9M616.5 418.5V447.1M618.5 422.6V442.3M620.5 418.5V442.7M622.5 418.5V441.6M624.5 415.5V442.0M625.5 410.8V437.4M627.5 409.9V424.4M629.5 412.3V437.0M631.5 415.1V438.5M633.5 444.0V455.9M634.5 434.6V453.2" stroke="#0000ff" stroke-width="0.9" fill="none"/>
<path d="M390.5 359.8 390.9 361.3 391.4 356.9 391.8 361.3 392.3 357.1 392.7 353.8 393.2 348.7 393.6 353.7 394.1 354.3 394.5 357.0 395.0 355.4 395.4 368.1 395.9 374.1 396.3 371.5 396.8 376.4 397.2 383.8 397.7 381.8 398.1 385.4 398.6 392.3 399.0 393.7 399.5 382.4 399.9 377.4 400.4 373.5 400.8 371.3 401.3 370.9 401.7 372.4 402.2 369.7 402.6 373.7 403.1 379.4 403.5 375.5 404.0 381.8 404.4 387.3 404.9 393.0 405.3 391.0 405.8 393.1 406.2 394.9 406.7 396.8 407.1 397.7 407.6 400.6 408.0 402.2 408.5 399.6 408.9 402.2 409.4 403.2 409.8 399.8 410.3 401.4 410.7 407.1 411.2 409.2 411.6 410.6 412.1 406.6 412.5 409.1 413.0 413.6 413.4 413.4 413.9 412.2 414.3 418.4 414.8 416.9 415.2 420.1 415.7 425.6 416.1 424.7 416.6 415.8 417.0 420.8 417.5 428.2 417.9 431.2 418.4 430.0 418.8 434.1 419.3 437.5 419.7 430.6 420.2 432.6 420.6 432.4 421.1 430.5 421.5 429.2 422.0 432.0 422.4 437.0 422.9 439.5 423.3 429.7 423.8 436.7 424.2 434.2 424.7 435.8 425.1 433.7 425.6 440.1 426.0 441.3 426.5 441.7 426.9 438.4 427.4 441.2 427.8 440.0 428.3 444.0 428.7 440.8 429.2 442.9 429.6 448.9 430.1 443.1 430.5 444.2 431.0 443.7 431.4 446.6 431.9 443.1 432.3 446.1 432.8 446.4 433.2 439.6 433.7 441.2 434.1 437.0 434.6 433.0 435.0 438.8 435.5 435.6 435.9 432.6 436.4 430.6 436.8 429.6 437.3 429.5 437.7 432.4 438.2 431.0 438.6 428.7 439.1 430.6 439.5 434.4 440.0 431.2 440.4 432.3 442.2 429.8 444.0 435.4 445.8 432.1 447.6 429.8 449.4 432.2 451.2 435.7 453.0 434.7 454.8 435.6 456.6 431.6 458.4 435.7 460.2 444.9 462.0 449.2 463.8 451.2 465.6 456.7 467.4 459.7 469.2 464.1 471.0 460.8 472.8 466.2 474.6 470.5 476.4 463.8 478.2 450.3 480.0 449.2 481.8 446.5 483.6 441.0 485.4 444.5 487.2 443.9 489.0 445.7 490.8 452.1 492.6 458.6 494.4 458.1 496.2 462.4 498.0 471.0 499.8 479.7 501.6 479.5 503.4 480.7 505.2 487.6 507.0 482.6 508.8 486.9 510.6 491.0 512.4 488.3 514.2 489.8 516.0 492.9 517.8 495.6 519.6 488.2 521.4 473.1 523.2 452.7 525.0 452.6 526.8 447.4 528.6 447.6 530.4 445.4 532.2 448.3 534.0 441.1 535.8 442.9 537.6 432.4 539.4 430.7 541.2 415.8 543.0 394.7 544.8 387.1 546.6 382.8 548.4 388.2 550.2 393.6 552.0 400.7 553.8 420.4 555.6 435.1 557.4 444.3 559.2 445.7 561.0 441.2 562.8 435.7 564.6 429.6 566.4 411.7 568.2 400.9 570.0 402.7 571.8 405.0 573.6 407.3 575.4 405.5 577.2 410.3 579.0 407.3 580.8 412.6 582.6 414.4 584.4 418.9 586.2 422.5 588.0 428.4 589.8 428.4 591.6 422.4 593.4 430.8 595.2 427.5 597.0 432.4 598.8 438.0 600.6 428.5 602.4 428.9 604.2 439.9 606.0 449.7 607.8 456.9 609.6 445.7 611.4 443.2 613.2 429.5 615.0 433.8 616.8 432.5 618.6 428.5 620.4 432.8 622.2 433.7 624.0 427.3 625.8 423.1 627.6 418.8 629.4 422.5 631.2 429.1 633.0 450.6 634.8 443.8" stroke="#0000ff" stroke-width="0.5" fill="none" stroke-linejoin="round"/>
<path d="M38.6 826.7 39.3 826.9 40.0 826.0 40.7 826.6 41.4 826.5 42.1 825.7 42.8 825.7 43.5 825.4 44.2 824.9 44.9 824.5 45.6 823.8 46.3 824.8 47.0 824.0 47.7 824.6 48.4 823.8 49.1 823.3 49.8 822.8 50.5 823.2 51.2 822.3 51.9 822.7 52.6 821.7 53.3 821.5 54.0 820.6 54.7 821.6 55.4 820.4 56.1 819.9 56.8 820.0 57.5 819.0 58.2 819.3 58.9 818.2 59.6 818.5 60.3 817.6 61.0 816.9 61.7 816.9 62.4 816.2 63.1 816.4 63.8 815.7 64.5 815.3 65.2 814.7 65.9 814.0 66.6 813.6 67.3 813.5 68.0 812.7 68.7 812.1 69.4 811.7 70.1 811.7 70.8 811.2 71.5 811.8 72.2 810.4 72.9 810.1 73.6 810.1 74.3 810.1 75.0 809.5 75.7 808.9 76.4 808.7 77.1 808.6 77.8 808.9 78.5 808.0 79.2 808.3 79.9 808.1 80.6 808.4 81.3 808.4 82.0 807.8 82.7 809.1 83.4 808.4 84.1 808.1 84.8 808.0 85.5 808.2 86.2 808.3 86.9 808.5 87.6 808.2 88.3 808.3 89.0 807.4 89.7 807.5 90.4 807.2 91.1 807.4 91.8 807.3 92.5 806.4 93.2 806.6 93.9 806.7 94.6 806.6 95.3 805.7 96.0 806.1 96.7 805.9 97.4 805.7 98.1 806.5 98.8 805.5 99.5 805.8 100.2 806.1 100.9 806.1 101.6 806.0 102.3 806.6 103.0 806.7 103.7 806.5 104.4 806.4 105.1 805.8 105.8 805.0 106.5 805.8 107.2 804.2 107.9 804.8 108.6 803.6 109.3 803.2 110.0 802.6 110.7 802.6 111.4 801.6 112.1 802.0 112.8 801.0 113.5 800.5 114.2 799.8 114.9 799.6 115.6 799.2 116.3 799.5 117.0 798.8 117.7 797.5 118.4 798.3 119.1 796.6 119.8 797.6 120.5 796.0 121.2 796.3 121.9 796.3 122.6 795.6 123.3 794.9 124.0 795.3 124.7 793.9 125.4 793.7 126.1 794.4 126.8 793.5 127.5 793.8 128.2 794.0 128.9 793.8 129.6 794.1 130.3 794.3 131.0 794.5 131.7 795.0 132.4 795.0 133.1 794.8 133.8 794.9 134.5 794.3 135.2 794.0 135.9 793.8 136.6 794.2 137.3 794.3 138.0 793.5 138.7 792.6 139.4 792.9 140.1 793.1 140.8 792.8 141.5 792.5 142.2 792.7 142.9 792.5 143.6 791.7 144.3 792.3 145.0 791.9 145.7 792.3 146.4 792.7 147.1 793.0 147.8 792.7 148.5 792.3 149.2 792.5 149.9 792.8 150.6 792.4 151.3 792.8 152.0 793.1 152.7 793.2 153.4 792.9 154.1 793.2 154.8 793.6 155.5 793.3 156.2 792.7 156.9 793.3 157.6 793.2 158.3 792.7 159.0 792.5 159.7 791.6 160.4 792.1 161.1 791.4 161.8 790.6 162.5 790.4 163.2 790.0 163.9 789.2 164.6 788.1 165.3 787.7 166.0 789.1 166.7 787.8 167.4 788.0 168.1 788.2 168.8 787.7 169.5 788.1 170.2 787.2 170.9 787.4 171.6 786.2 172.3 786.8 173.0 786.5 173.7 786.1 174.4 785.7 175.1 785.3 175.8 785.2 176.5 784.9 177.2 783.9 177.9 784.3 178.6 783.2 179.3 783.3 180.0 783.0 180.7 783.1 181.4 782.8 182.1 783.0 182.8 782.8 183.5 782.6 184.2 783.4 184.9 783.3 185.6 783.3 186.3 783.5 187.0 782.8 187.7 783.5 188.4 782.9 189.1 783.4 189.8 783.3 190.5 783.5 191.2 783.7 191.9 783.5 192.6 783.2 193.3 783.8 194.0 783.9 194.7 783.6 195.4 783.6 196.1 782.4 196.8 782.8 197.5 782.5 198.2 781.6 198.9 782.1 199.6 781.9 200.3 781.1 201.0 781.1 201.7 781.2 202.4 781.1 203.1 780.9 203.8 780.0 204.5 779.6 205.2 779.4 205.9 779.1 206.6 778.3 207.3 777.9 208.0 777.6 208.7 777.0 209.4 776.3 210.1 775.3 210.8 775.0 211.5 774.9 212.2 774.6 212.9 774.2 213.6 773.1 214.3 772.9 215.0 772.3 215.7 771.3 216.4 771.5 217.1 770.9 217.8 771.6 218.5 770.9 219.2 770.1 219.9 769.9 220.6 769.7 221.3 769.7 222.0 769.0 222.7 768.9 223.4 768.2 224.1 768.3 224.8 768.2 225.5 768.0 226.2 767.7 226.9 768.1 227.6 767.7 228.3 768.4 229.0 767.8 229.7 767.7 230.4 768.7 231.1 768.0 231.8 768.2 232.5 767.8 233.2 767.9 233.9 767.9 234.6 767.4 235.3 768.0 236.0 767.0 236.7 766.5 237.4 767.1 238.1 766.6 238.8 765.3 239.5 765.7 240.2 766.1 240.9 765.4 241.6 765.5 242.3 765.4 243.0 764.7 243.7 765.1 244.4 765.6 245.1 765.8 245.8 765.2 246.5 765.1 247.2 765.2 247.9 765.0 248.6 765.1 249.3 764.4 250.0 764.5 250.7 764.4 251.4 764.2 252.1 763.0 252.8 763.5 253.5 762.9 254.2 762.6 254.9 761.6 255.6 761.9 256.3 761.0 257.0 760.4 257.7 761.0 258.4 760.7 259.1 760.4 259.8 760.2 260.5 759.9 261.2 760.0 261.9 759.6 262.6 759.6 263.3 759.7 264.0 758.8 264.7 758.5 265.4 758.6 266.1 757.4 266.8 757.3 267.5 757.2 268.2 756.3 268.9 756.9 269.6 756.8 270.3 755.6 271.0 755.4 271.7 755.7 272.4 755.6 273.1 754.2 273.8 754.7 274.5 754.1 275.2 753.2 275.9 753.4 276.6 753.0 277.3 752.9 278.0 752.6 278.7 752.2 279.4 751.9 280.1 751.7 280.8 751.8 281.5 751.9 282.2 751.9 282.9 751.3 283.6 751.4 284.3 751.5 285.0 752.3 285.7 752.0 286.4 751.6 287.1 751.4" stroke="#ff0000" stroke-width="1.2" fill="none" stroke-linejoin="round"/>
<path d="M38.6 808.8 39.3 808.8 40.0 808.6 40.7 808.8 41.4 808.4 42.1 808.5 42.8 808.9 43.5 809.3 44.2 809.5 44.9 809.6 45.6 809.8 46.3 809.7 47.0 809.4 47.7 803.1 48.4 791.8 49.1 779.6 49.8 772.3 50.5 767.0 51.2 763.5 51.9 760.6 52.6 757.7 53.3 755.5 54.0 753.5 54.7 751.9 55.4 750.0 56.1 748.5 56.8 748.7 57.5 748.8 58.2 748.4 58.9 748.0 59.6 747.3 60.3 746.4 61.0 746.8 61.7 746.3 62.4 746.0 63.1 746.2 63.8 745.3 64.5 744.8 65.2 744.4 65.9 743.6 66.6 742.9 67.3 742.4 68.0 742.4 68.7 741.8 69.4 740.9 70.1 741.0 70.8 740.1 71.5 739.1 72.2 739.5 72.9 739.0 73.6 738.5 74.3 739.0 75.0 738.5 75.7 738.4 76.4 738.6 77.1 737.4 77.8 737.6 78.5 737.8 79.2 737.9 79.9 737.4 80.6 737.2 81.3 737.1 82.0 737.4 82.7 737.6 83.4 736.8 84.1 736.5 84.8 737.0 85.5 736.9 86.2 736.7 86.9 737.1 87.6 737.1 88.3 736.6 89.0 736.5 89.7 736.8 90.4 736.3 91.1 735.9 91.8 736.2 92.5 735.8 93.2 736.2 93.9 735.8 94.6 735.8 95.3 735.9 96.0 735.7 96.7 735.5 97.4 735.6 98.1 736.7 98.8 736.7 99.5 736.0 100.2 736.2 100.9 736.5 101.6 735.5 102.3 735.0 103.0 734.7 103.7 733.8 104.4 733.0 105.1 732.2 105.8 731.7 106.5 731.4 107.2 731.5 107.9 731.0 108.6 730.4 109.3 730.6 110.0 730.1 110.7 729.3 111.4 729.6 112.1 729.7 112.8 729.0 113.5 729.3 114.2 728.7 114.9 728.6 115.6 727.9 116.3 728.8 117.0 727.9 117.7 727.7 118.4 726.7 119.1 725.9 119.8 726.3 120.5 725.2 121.2 725.6 121.9 724.5 122.6 724.6 123.3 723.3 124.0 722.5 124.7 723.0 125.4 722.4 126.1 722.3 126.8 722.6 127.5 721.9 128.2 721.6 128.9 721.6 129.6 721.3 130.3 721.2 131.0 721.3 131.7 721.3 132.4 721.4 133.1 721.0 133.8 721.3 134.5 721.5 135.2 721.1 135.9 721.2 136.6 720.6 137.3 721.0 138.0 721.1 138.7 720.7 139.4 720.4 140.1 720.9 140.8 721.0 141.5 721.5 142.2 720.9 142.9 721.6 143.6 720.2 144.3 721.0 145.0 720.9 145.7 721.0 146.4 721.0 147.1 721.1 147.8 721.8 148.5 721.2 149.2 721.6 149.9 721.0 150.6 720.8 151.3 719.7 152.0 720.3 152.7 720.2 153.4 719.4 154.1 719.3 154.8 719.0 155.5 719.7 156.2 718.4 156.9 718.2 157.6 717.3 158.3 717.4 159.0 717.8 159.7 717.0 160.4 716.2 161.1 716.8 161.8 716.7 162.5 716.5 163.2 716.3 163.9 715.7 164.6 716.6 165.3 715.2 166.0 715.3 166.7 714.4 167.4 714.4 168.1 713.8 168.8 714.1 169.5 713.7 170.2 713.3 170.9 712.8 171.6 713.7 172.3 713.7 173.0 713.6 173.7 713.2 174.4 713.4 175.1 713.4 175.8 713.2 176.5 713.5 177.2 712.9 177.9 712.9 178.6 712.3 179.3 713.4 180.0 712.4 180.7 712.8 181.4 712.9 182.1 712.4 182.8 712.7 183.5 713.0 184.2 712.8 184.9 712.7 185.6 712.8 186.3 712.7 187.0 712.9 187.7 713.1 188.4 713.2 189.1 713.4 189.8 713.1 190.5 712.9 191.2 713.4 191.9 713.3 192.6 713.5 193.3 713.3 194.0 713.4 194.7 713.1 195.4 712.8 196.1 711.7 196.8 711.5 197.5 711.1 198.2 711.1 198.9 709.9 199.6 709.6 200.3 708.8 201.0 707.8 201.7 708.6 202.4 708.1 203.1 708.0 203.8 706.9 204.5 707.1 205.2 706.8 205.9 705.9 206.6 706.4 207.3 705.7 208.0 705.8 208.7 704.8 209.4 704.8 210.1 704.5 210.8 703.9 211.5 704.1 212.2 704.2 212.9 703.4 213.6 703.2 214.3 703.1 215.0 702.4 215.7 701.7 216.4 700.7 217.1 701.1 217.8 700.5 218.5 700.1 219.2 700.1 219.9 699.7 220.6 698.6 221.3 698.9 222.0 698.4 222.7 698.4 223.4 697.8 224.1 697.7 224.8 696.8 225.5 696.6 226.2 696.2 226.9 696.0 227.6 695.7 228.3 696.1 229.0 695.2 229.7 695.4 230.4 694.8 231.1 694.6 231.8 694.8 232.5 694.3 233.2 694.7 233.9 694.1 234.6 693.8 235.3 693.7 236.0 693.7 236.7 692.6 237.4 691.7 238.1 691.8 238.8 691.6 239.5 691.8 240.2 691.4 240.9 691.3 241.6 692.2 242.3 692.5 243.0 692.3 243.7 692.7 244.4 693.0 245.1 694.0 245.8 692.9 246.5 692.9 247.2 692.9 247.9 693.0 248.6 692.5 249.3 692.6 250.0 692.6 250.7 692.8 251.4 691.9 252.1 691.6 252.8 691.4 253.5 690.7 254.2 690.7 254.9 690.9 255.6 690.7 256.3 691.3 257.0 690.6 257.7 690.2 258.4 690.2 259.1 689.2 259.8 689.0 260.5 688.7 261.2 688.6 261.9 689.0 262.6 687.9 263.3 687.4 264.0 687.4 264.7 687.3 265.4 686.9 266.1 686.7 266.8 685.7 267.5 685.5 268.2 685.4 268.9 685.2 269.6 685.3 270.3 684.1 271.0 684.5 271.7 683.9 272.4 683.9 273.1 683.3 273.8 682.9 274.5 683.7 275.2 683.3 275.9 682.4 276.6 683.2 277.3 682.5 278.0 682.7 278.7 682.6 279.4 682.0 280.1 682.8 280.8 682.1 281.5 682.7 282.2 682.2 282.9 682.0 283.6 681.7 284.3 682.0 285.0 680.7 285.7 680.5 286.4 680.3 287.1 680.7 287.8 680.4 288.5 679.8 289.2 679.7" stroke="#0000ff" stroke-width="1.3" fill="none" stroke-linejoin="round"/>
<path d="M410.4 825.0 411.1 825.1 411.8 825.0 412.5 824.3 413.2 824.2 413.9 823.9 414.6 823.9 415.3 823.5 416.0 823.4 416.7 822.5 417.4 823.1 418.1 822.4 418.8 822.4 419.5 821.9 420.2 821.6 420.9 821.6 421.6 821.4 422.3 820.9 423.0 820.6 423.7 820.5 424.4 819.9 425.1 819.4 425.8 819.6 426.5 819.1 427.2 818.5 427.9 818.5 428.6 818.3 429.3 817.8 430.0 817.4 430.7 817.5 431.4 817.4 432.1 816.9 432.8 816.5 433.5 816.4 434.2 816.2 434.9 815.7 435.6 815.6 436.3 815.5 437.0 814.8 437.7 814.4 438.4 814.4 439.1 814.1 439.8 814.0 440.5 813.1 441.2 813.0 441.9 812.7 442.6 812.2 443.3 812.3 444.0 812.1 444.7 811.5 445.4 811.8 446.1 811.3 446.8 811.0 447.5 810.7 448.2 810.5 448.9 809.7 449.6 809.8 450.3 809.5 451.0 808.6 451.7 808.8 452.4 808.3 453.1 808.2 453.8 807.5 454.5 807.3 455.2 806.9 455.9 806.2 456.6 806.2 457.3 805.6 458.0 805.3 458.7 804.6 459.4 804.6 460.1 804.1 460.8 803.5 461.5 803.3 462.2 803.0 462.9 802.8 463.6 801.5 464.3 801.8 465.0 801.3 465.7 800.9 466.4 800.3 467.1 800.6 467.8 799.6 468.5 799.8 469.2 799.7 469.9 798.7 470.6 798.7 471.3 798.1 472.0 798.2 472.7 798.3 473.4 798.1 474.1 796.8 474.8 796.9 475.5 796.9 476.2 796.8 476.9 796.2 477.6 795.6 478.3 795.5 479.0 795.1 479.7 794.7 480.4 794.2 481.1 794.1 481.8 793.7 482.5 793.3 483.2 792.8 483.9 792.2 484.6 792.0 485.3 792.1 486.0 791.3 486.7 790.6 487.4 791.0 488.1 790.4 488.8 790.4 489.5 789.6 490.2 789.1 490.9 788.5 491.6 788.8 492.3 788.8 493.0 787.7 493.7 787.4 494.4 787.4 495.1 786.7 495.8 786.5 496.5 786.2 497.2 786.0 497.9 785.9 498.6 785.4 499.3 785.3 500.0 784.6 500.7 784.4 501.4 783.5 502.1 783.3 502.8 783.5 503.5 782.8 504.2 782.8 504.9 782.4 505.6 782.3 506.3 781.8 507.0 781.5 507.7 780.8 508.4 780.3 509.1 780.0 509.8 779.7 510.5 779.2 511.2 779.0 511.9 778.8 512.6 778.6 513.3 778.2 514.0 777.5 514.7 777.6 515.4 777.4 516.1 777.4 516.8 777.0 517.5 776.4 518.2 776.1 518.9 776.5 519.6 775.9 520.3 775.9 521.0 775.7 521.7 774.6 522.4 774.6 523.1 774.3 523.8 774.0 524.5 773.6 525.2 773.2 525.9 772.8 526.6 772.0 527.3 771.9 528.0 771.3 528.7 771.1 529.4 770.6 530.1 770.4 530.8 770.0 531.5 769.5 532.2 769.1 532.9 768.6 533.6 768.1 534.3 767.8 535.0 767.3 535.7 767.2 536.4 766.8 537.1 766.6 537.8 765.8 538.5 766.1 539.2 765.4 539.9 765.1 540.6 765.0 541.3 764.7 542.0 764.6 542.7 764.1 543.4 763.8 544.1 763.6 544.8 763.9 545.5 763.4 546.2 762.8 546.9 762.9 547.6 762.3 548.3 763.0 549.0 762.0 549.7 762.3 550.4 762.1 551.1 761.4 551.8 761.7 552.5 761.7 553.2 761.3 553.9 761.1 554.6 761.0 555.3 760.6 556.0 760.4 556.7 760.0 557.4 760.0 558.1 759.3 558.8 759.5 559.5 758.9 560.2 758.5 560.9 758.7 561.6 758.7 562.3 758.3 563.0 757.7 563.7 757.7 564.4 757.2 565.1 757.0 565.8 756.8 566.5 755.9 567.2 756.2 567.9 755.6 568.6 755.3 569.3 754.8 570.0 754.4 570.7 754.1 571.4 754.2 572.1 753.9 572.8 753.1 573.5 752.9 574.2 752.1 574.9 751.3 575.6 751.3 576.3 751.0 577.0 750.3 577.7 750.0 578.4 749.7 579.1 748.9 579.8 748.3 580.5 748.2 581.2 747.7 581.9 747.3 582.6 747.2 583.3 747.0 584.0 746.1 584.7 746.0 585.4 745.7 586.1 745.3 586.8 745.0 587.5 744.3 588.2 744.3 588.9 744.2 589.6 743.6 590.3 742.9 591.0 742.8 591.7 742.6 592.4 742.1 593.1 741.5 593.8 741.7 594.5 740.6 595.2 740.7 595.9 740.2 596.6 739.5 597.3 739.7 598.0 739.1 598.7 738.3 599.4 738.4 600.1 737.7 600.8 736.9 601.5 736.8 602.2 736.6 602.9 736.3 603.6 735.7 604.3 735.3 605.0 734.9 605.7 734.3 606.4 734.3 607.1 733.6 607.8 733.3 608.5 733.0 609.2 732.2 609.9 732.0 610.6 732.2 611.3 731.6 612.0 731.1 612.7 731.0 613.4 730.5 614.1 730.4 614.8 729.9 615.5 729.8 616.2 729.1 616.9 729.5 617.6 728.7 618.3 728.2 619.0 728.2 619.7 727.9 620.4 727.7 621.1 727.1 621.8 727.2 622.5 727.7 623.2 726.2 623.9 726.2 624.6 725.7 625.3 725.5 626.0 724.7 626.7 724.5 627.4 724.6 628.1 724.1 628.8 724.2 629.5 723.2 630.2 723.1 630.9 723.4 631.6 722.2 632.3 721.8 633.0 721.6 633.7 721.3 634.4 721.2 635.1 720.6 635.8 720.0 636.5 719.9 637.2 720.2 637.9 719.5 638.6 718.1 639.3 718.4 640.0 717.8 640.7 717.8 641.4 717.2 642.1 717.3 642.8 716.7 643.5 716.3 644.2 715.7 644.9 715.3 645.6 715.0 646.3 714.9 647.0 714.3 647.7 713.7 648.4 713.8 649.1 713.3 649.8 712.9 650.5 712.6" stroke="#ff0000" stroke-width="1.0" fill="none" stroke-linejoin="round"/>
<path d="M410.4 782.5 411.1 782.5 411.8 782.1 412.5 781.8 413.2 781.7 413.9 780.4 414.6 780.1 415.3 779.3 416.0 779.1 416.7 778.9 417.4 778.0 418.1 777.5 418.8 776.1 419.5 776.0 420.2 775.0 420.9 775.1 421.6 774.1 422.3 773.5 423.0 772.6 423.7 772.2 424.4 771.7 425.1 770.9 425.8 770.4 426.5 770.1 427.2 769.6 427.9 769.3 428.6 769.1 429.3 768.6 430.0 768.8 430.7 767.8 431.4 768.2 432.1 767.4 432.8 767.1 433.5 766.5 434.2 766.6 434.9 766.2 435.6 766.0 436.3 765.4 437.0 765.3 437.7 765.4 438.4 764.6 439.1 764.0 439.8 764.1 440.5 763.5 441.2 763.4 441.9 763.1 442.6 762.5 443.3 761.8 444.0 762.1 444.7 762.2 445.4 761.7 446.1 761.8 446.8 761.8 447.5 761.2 448.2 761.6 448.9 761.6 449.6 761.2 450.3 761.0 451.0 760.8 451.7 760.9 452.4 760.0 453.1 759.7 453.8 759.6 454.5 758.8 455.2 758.3 455.9 758.2 456.6 758.3 457.3 758.0 458.0 757.1 458.7 756.7 459.4 756.8 460.1 756.5 460.8 756.3 461.5 756.1 462.2 756.0 462.9 755.3 463.6 755.0 464.3 754.2 465.0 753.8 465.7 753.8 466.4 753.5 467.1 753.2 467.8 752.7 468.5 752.4 469.2 752.0 469.9 750.9 470.6 750.8 471.3 750.7 472.0 750.3 472.7 749.2 473.4 749.5 474.1 748.5 474.8 748.0 475.5 747.6 476.2 747.1 476.9 745.8 477.6 745.9 478.3 745.0 479.0 744.1 479.7 743.7 480.4 742.6 481.1 742.5 481.8 742.2 482.5 741.4 483.2 741.1 483.9 740.7 484.6 740.3 485.3 740.2 486.0 739.4 486.7 738.9 487.4 738.8 488.1 738.8 488.8 737.7 489.5 737.7 490.2 736.7 490.9 737.2 491.6 736.7 492.3 736.7 493.0 736.0 493.7 735.4 494.4 735.8 495.1 735.5 495.8 734.8 496.5 734.4 497.2 734.8 497.9 734.4 498.6 735.0 499.3 733.8 500.0 733.5 500.7 733.4 501.4 732.7 502.1 732.6 502.8 733.1 503.5 732.2 504.2 731.7 504.9 731.2 505.6 731.4 506.3 731.0 507.0 730.5 507.7 729.9 508.4 729.8 509.1 729.4 509.8 728.7 510.5 728.8 511.2 727.7 511.9 727.6 512.6 727.6 513.3 727.4 514.0 726.8 514.7 727.0 515.4 727.0 516.1 726.6 516.8 726.4 517.5 726.3 518.2 726.0 518.9 725.3 519.6 725.4 520.3 725.6 521.0 724.7 521.7 724.8 522.4 724.4 523.1 724.0 523.8 723.7 524.5 723.8 525.2 723.6 525.9 723.3 526.6 722.5 527.3 722.6 528.0 722.5 528.7 722.4 529.4 722.0 530.1 721.7 530.8 721.5 531.5 721.1 532.2 720.3 532.9 720.3 533.6 719.7 534.3 718.9 535.0 718.8 535.7 719.6 536.4 718.4 537.1 717.7 537.8 717.9 538.5 718.2 539.2 717.4 539.9 717.2 540.6 716.7 541.3 716.5 542.0 716.5 542.7 716.1 543.4 715.4 544.1 715.4 544.8 715.0 545.5 714.3 546.2 714.0 546.9 713.6 547.6 712.9 548.3 713.0 549.0 712.1 549.7 711.5 550.4 710.8 551.1 710.5 551.8 710.9 552.5 709.6 553.2 709.7 553.9 709.1 554.6 709.0 555.3 708.6 556.0 707.9 556.7 707.7 557.4 707.5 558.1 707.2 558.8 706.9 559.5 706.5 560.2 706.5 560.9 706.4 561.6 705.9 562.3 705.2 563.0 705.3 563.7 704.9 564.4 704.7 565.1 704.9 565.8 703.9 566.5 703.7 567.2 703.1 567.9 702.9 568.6 702.5 569.3 702.8 570.0 702.1 570.7 701.4 571.4 701.8 572.1 700.4 572.8 700.6 573.5 700.3 574.2 699.7 574.9 699.1 575.6 698.7 576.3 698.2 577.0 698.2 577.7 696.8 578.4 697.0 579.1 696.7 579.8 696.1 580.5 695.4 581.2 695.4 581.9 694.9 582.6 695.0 583.3 694.8 584.0 694.0 584.7 693.0 585.4 693.2 586.1 692.6 586.8 692.8 587.5 692.7 588.2 692.0 588.9 692.1 589.6 691.6 590.3 691.0 591.0 690.2 591.7 690.2 592.4 689.4 593.1 689.8 593.8 689.2 594.5 689.2 595.2 688.5 595.9 687.4 596.6 687.8 597.3 687.4 598.0 687.2 598.7 686.0 599.4 685.6 600.1 685.4 600.8 684.6 601.5 684.0 602.2 683.6 602.9 684.2 603.6 682.7 604.3 682.1 605.0 681.8 605.7 681.4 606.4 681.3 607.1 680.7 607.8 680.1 608.5 679.4 609.2 678.9 609.9 678.2 610.6 677.4 611.3 677.9 612.0 676.7 612.7 676.6 613.4 675.6 614.1 675.2 614.8 674.6 615.5 673.8 616.2 673.7 616.9 673.3 617.6 673.0 618.3 672.5 619.0 672.2 619.7 671.6 620.4 671.1 621.1 670.2 621.8 670.3 622.5 670.6 623.2 669.8 623.9 669.7 624.6 669.1 625.3 668.6 626.0 669.1 626.7 668.3 627.4 668.3 628.1 667.7 628.8 667.1 629.5 666.1 630.2 666.4 630.9 665.5 631.6 664.9 632.3 665.5 633.0 664.9 633.7 664.5 634.4 663.8 635.1 663.3 635.8 663.0 636.5 662.4 637.2 661.9 637.9 661.7 638.6 660.3 639.3 660.8 640.0 659.9 640.7 659.9 641.4 659.6 642.1 658.5 642.8 658.6 643.5 658.2 644.2 657.3 644.9 656.9 645.6 656.7 646.3 655.5 647.0 655.6 647.7 655.4 648.4 654.8 649.1 654.0 649.8 654.0 650.5 654.2 651.2 653.7 651.9 653.0 652.6 652.5 653.3 652.5" stroke="#0000ff" stroke-width="1.2" fill="none" stroke-linejoin="round"/>
<rect x="53.5" y="0.4" width="272" height="217.9" fill="none" stroke="#5e5e5e" stroke-width="1.25"/>
<path d="M53.5 218.3v-4.2M53.5 0.4v4.2M121.5 218.3v-4.2M121.5 0.4v4.2M189.5 218.3v-4.2M189.5 0.4v4.2M257.5 218.3v-4.2M257.5 0.4v4.2M325.5 218.3v-4.2M325.5 0.4v4.2M87.5 218.3v-2.3M87.5 0.4v2.3M155.5 218.3v-2.3M155.5 0.4v2.3M223.5 218.3v-2.3M223.5 0.4v2.3M291.5 218.3v-2.3M291.5 0.4v2.3M53.5 218.3h4.2M325.5 218.3h-4.2M53.5 169.88h4.2M325.5 169.88h-4.2M53.5 121.46h4.2M325.5 121.46h-4.2M53.5 73.03h4.2M325.5 73.03h-4.2M53.5 24.61h4.2M325.5 24.61h-4.2M53.5 194.09h2.3M325.5 194.09h-2.3M53.5 145.67h2.3M325.5 145.67h-2.3M53.5 97.24h2.3M325.5 97.24h-2.3M53.5 48.82h2.3M325.5 48.82h-2.3" stroke="#5e5e5e" stroke-width="1.2" fill="none"/>
<text x="53.5" y="232.6" font-size="12.7" text-anchor="middle" textLength="18.8" lengthAdjust="spacingAndGlyphs">720</text>
<text x="121.5" y="232.6" font-size="12.7" text-anchor="middle" textLength="24.87" lengthAdjust="spacingAndGlyphs">1080</text>
<text x="189.5" y="232.6" font-size="12.7" text-anchor="middle" textLength="24.87" lengthAdjust="spacingAndGlyphs">1440</text>
<text x="257.5" y="232.6" font-size="12.7" text-anchor="middle" textLength="24.87" lengthAdjust="spacingAndGlyphs">1800</text>
<text x="325.5" y="232.6" font-size="12.7" text-anchor="middle" textLength="24.87" lengthAdjust="spacingAndGlyphs">2160</text>
<text x="48.9" y="222.1" font-size="12.7" text-anchor="end" textLength="18.8" lengthAdjust="spacingAndGlyphs">500</text>
<text x="48.9" y="173.68" font-size="12.7" text-anchor="end" textLength="18.8" lengthAdjust="spacingAndGlyphs">550</text>
<text x="48.9" y="125.26" font-size="12.7" text-anchor="end" textLength="18.8" lengthAdjust="spacingAndGlyphs">600</text>
<text x="48.9" y="76.83" font-size="12.7" text-anchor="end" textLength="18.8" lengthAdjust="spacingAndGlyphs">650</text>
<text x="48.9" y="28.41" font-size="12.7" text-anchor="end" textLength="18.8" lengthAdjust="spacingAndGlyphs">700</text>
<rect x="387.6" y="5.3" width="271.7" height="217.3" fill="none" stroke="#5e5e5e" stroke-width="1.25"/>
<path d="M387.6 222.6v-4.2M387.6 5.3v4.2M455.52 222.6v-4.2M455.52 5.3v4.2M523.45 222.6v-4.2M523.45 5.3v4.2M591.38 222.6v-4.2M591.38 5.3v4.2M659.3 222.6v-4.2M659.3 5.3v4.2M421.56 222.6v-2.3M421.56 5.3v2.3M489.49 222.6v-2.3M489.49 5.3v2.3M557.41 222.6v-2.3M557.41 5.3v2.3M625.34 222.6v-2.3M625.34 5.3v2.3M387.6 222.6h4.2M659.3 222.6h-4.2M387.6 168.28h4.2M659.3 168.28h-4.2M387.6 113.95h4.2M659.3 113.95h-4.2M387.6 59.62h4.2M659.3 59.62h-4.2M387.6 5.3h4.2M659.3 5.3h-4.2M387.6 195.44h2.3M659.3 195.44h-2.3M387.6 141.11h2.3M659.3 141.11h-2.3M387.6 86.79h2.3M659.3 86.79h-2.3M387.6 32.46h2.3M659.3 32.46h-2.3" stroke="#5e5e5e" stroke-width="1.2" fill="none"/>
<text x="387.6" y="236.9" font-size="12.7" text-anchor="middle" textLength="18.8" lengthAdjust="spacingAndGlyphs">720</text>
<text x="455.52" y="236.9" font-size="12.7" text-anchor="middle" textLength="24.87" lengthAdjust="spacingAndGlyphs">1080</text>
<text x="523.45" y="236.9" font-size="12.7" text-anchor="middle" textLength="24.87" lengthAdjust="spacingAndGlyphs">1440</text>
<text x="591.38" y="236.9" font-size="12.7" text-anchor="middle" textLength="24.87" lengthAdjust="spacingAndGlyphs">1800</text>
<text x="659.3" y="236.9" font-size="12.7" text-anchor="middle" textLength="24.87" lengthAdjust="spacingAndGlyphs">2160</text>
<text x="383" y="226.4" font-size="12.7" text-anchor="end" textLength="18.8" lengthAdjust="spacingAndGlyphs">100</text>
<text x="383" y="172.08" font-size="12.7" text-anchor="end" textLength="18.8" lengthAdjust="spacingAndGlyphs">250</text>
<text x="383" y="117.75" font-size="12.7" text-anchor="end" textLength="18.8" lengthAdjust="spacingAndGlyphs">400</text>
<text x="383" y="63.42" font-size="12.7" text-anchor="end" textLength="18.8" lengthAdjust="spacingAndGlyphs">550</text>
<text x="383" y="9.1" font-size="12.7" text-anchor="end" textLength="18.8" lengthAdjust="spacingAndGlyphs">700</text>
<rect x="59.5" y="322.3" width="264.1" height="212.5" fill="none" stroke="#5e5e5e" stroke-width="1.25"/>
<path d="M59.5 534.8v-4.2M59.5 322.3v4.2M125.53 534.8v-4.2M125.53 322.3v4.2M191.55 534.8v-4.2M191.55 322.3v4.2M257.58 534.8v-4.2M257.58 322.3v4.2M323.6 534.8v-4.2M323.6 322.3v4.2M92.51 534.8v-2.3M92.51 322.3v2.3M158.54 534.8v-2.3M158.54 322.3v2.3M224.56 534.8v-2.3M224.56 322.3v2.3M290.59 534.8v-2.3M290.59 322.3v2.3M59.5 534.8h4.2M323.6 534.8h-4.2M59.5 463.97h4.2M323.6 463.97h-4.2M59.5 393.13h4.2M323.6 393.13h-4.2M59.5 322.3h4.2M323.6 322.3h-4.2M59.5 499.38h2.3M323.6 499.38h-2.3M59.5 428.55h2.3M323.6 428.55h-2.3M59.5 357.72h2.3M323.6 357.72h-2.3" stroke="#5e5e5e" stroke-width="1.2" fill="none"/>
<text x="59.5" y="549.1" font-size="12.7" text-anchor="middle" textLength="18.8" lengthAdjust="spacingAndGlyphs">720</text>
<text x="125.53" y="549.1" font-size="12.7" text-anchor="middle" textLength="24.87" lengthAdjust="spacingAndGlyphs">1080</text>
<text x="191.55" y="549.1" font-size="12.7" text-anchor="middle" textLength="24.87" lengthAdjust="spacingAndGlyphs">1440</text>
<text x="257.58" y="549.1" font-size="12.7" text-anchor="middle" textLength="24.87" lengthAdjust="spacingAndGlyphs">1800</text>
<text x="323.6" y="549.1" font-size="12.7" text-anchor="middle" textLength="24.87" lengthAdjust="spacingAndGlyphs">2160</text>
<text x="54.9" y="538.6" font-size="12.7" text-anchor="end" textLength="24.87" lengthAdjust="spacingAndGlyphs">2000</text>
<text x="54.9" y="467.77" font-size="12.7" text-anchor="end" textLength="24.87" lengthAdjust="spacingAndGlyphs">6000</text>
<text x="54.9" y="396.93" font-size="12.7" text-anchor="end" textLength="30.93" lengthAdjust="spacingAndGlyphs">10000</text>
<text x="54.9" y="326.1" font-size="12.7" text-anchor="end" textLength="30.93" lengthAdjust="spacingAndGlyphs">14000</text>
<rect x="390.4" y="318.3" width="264" height="213.3" fill="none" stroke="#5e5e5e" stroke-width="1.25"/>
<path d="M390.4 531.6v-4.2M390.4 318.3v4.2M456.4 531.6v-4.2M456.4 318.3v4.2M522.4 531.6v-4.2M522.4 318.3v4.2M588.4 531.6v-4.2M588.4 318.3v4.2M654.4 531.6v-4.2M654.4 318.3v4.2M423.4 531.6v-2.3M423.4 318.3v2.3M489.4 531.6v-2.3M489.4 318.3v2.3M555.4 531.6v-2.3M555.4 318.3v2.3M621.4 531.6v-2.3M621.4 318.3v2.3M390.4 512.21h4.2M654.4 512.21h-4.2M390.4 473.43h4.2M654.4 473.43h-4.2M390.4 434.65h4.2M654.4 434.65h-4.2M390.4 395.86h4.2M654.4 395.86h-4.2M390.4 357.08h4.2M654.4 357.08h-4.2M390.4 318.3h4.2M654.4 318.3h-4.2M390.4 492.82h2.3M654.4 492.82h-2.3M390.4 454.04h2.3M654.4 454.04h-2.3M390.4 415.25h2.3M654.4 415.25h-2.3M390.4 376.47h2.3M654.4 376.47h-2.3M390.4 337.69h2.3M654.4 337.69h-2.3" stroke="#5e5e5e" stroke-width="1.2" fill="none"/>
<text x="390.4" y="545.9" font-size="12.7" text-anchor="middle" textLength="18.8" lengthAdjust="spacingAndGlyphs">720</text>
<text x="456.4" y="545.9" font-size="12.7" text-anchor="middle" textLength="24.87" lengthAdjust="spacingAndGlyphs">1080</text>
<text x="522.4" y="545.9" font-size="12.7" text-anchor="middle" textLength="24.87" lengthAdjust="spacingAndGlyphs">1440</text>
<text x="588.4" y="545.9" font-size="12.7" text-anchor="middle" textLength="24.87" lengthAdjust="spacingAndGlyphs">1800</text>
<text x="654.4" y="545.9" font-size="12.7" text-anchor="middle" textLength="24.87" lengthAdjust="spacingAndGlyphs">2160</text>
<text x="385.8" y="516.01" font-size="12.7" text-anchor="end" textLength="6.67" lengthAdjust="spacingAndGlyphs">6</text>
<text x="385.8" y="477.23" font-size="12.7" text-anchor="end" textLength="6.67" lengthAdjust="spacingAndGlyphs">8</text>
<text x="385.8" y="438.45" font-size="12.7" text-anchor="end" textLength="12.73" lengthAdjust="spacingAndGlyphs">10</text>
<text x="385.8" y="399.66" font-size="12.7" text-anchor="end" textLength="12.73" lengthAdjust="spacingAndGlyphs">12</text>
<text x="385.8" y="360.88" font-size="12.7" text-anchor="end" textLength="12.73" lengthAdjust="spacingAndGlyphs">14</text>
<text x="385.8" y="322.1" font-size="12.7" text-anchor="end" textLength="12.73" lengthAdjust="spacingAndGlyphs">16</text>
<rect x="38.5" y="629.4" width="271.1" height="218" fill="none" stroke="#5e5e5e" stroke-width="1.25"/>
<path d="M38.5 847.4v-4.2M38.5 629.4v4.2M106.28 847.4v-4.2M106.28 629.4v4.2M174.05 847.4v-4.2M174.05 629.4v4.2M241.83 847.4v-4.2M241.83 629.4v4.2M309.6 847.4v-4.2M309.6 629.4v4.2M72.39 847.4v-2.3M72.39 629.4v2.3M140.16 847.4v-2.3M140.16 629.4v2.3M207.94 847.4v-2.3M207.94 629.4v2.3M275.71 847.4v-2.3M275.71 629.4v2.3M38.5 820.15h4.2M309.6 820.15h-4.2M38.5 765.65h4.2M309.6 765.65h-4.2M38.5 711.15h4.2M309.6 711.15h-4.2M38.5 656.65h4.2M309.6 656.65h-4.2M38.5 847.4h2.3M309.6 847.4h-2.3M38.5 792.9h2.3M309.6 792.9h-2.3M38.5 738.4h2.3M309.6 738.4h-2.3M38.5 683.9h2.3M309.6 683.9h-2.3" stroke="#5e5e5e" stroke-width="1.2" fill="none"/>
<text x="38.5" y="861.7" font-size="12.7" text-anchor="middle" textLength="18.8" lengthAdjust="spacingAndGlyphs">720</text>
<text x="106.28" y="861.7" font-size="12.7" text-anchor="middle" textLength="24.87" lengthAdjust="spacingAndGlyphs">1080</text>
<text x="174.05" y="861.7" font-size="12.7" text-anchor="middle" textLength="24.87" lengthAdjust="spacingAndGlyphs">1440</text>
<text x="241.83" y="861.7" font-size="12.7" text-anchor="middle" textLength="24.87" lengthAdjust="spacingAndGlyphs">1800</text>
<text x="309.6" y="861.7" font-size="12.7" text-anchor="middle" textLength="24.87" lengthAdjust="spacingAndGlyphs">2160</text>
<text x="33.9" y="823.95" font-size="12.7" text-anchor="end" textLength="6.67" lengthAdjust="spacingAndGlyphs">0</text>
<text x="33.9" y="769.45" font-size="12.7" text-anchor="end" textLength="18.8" lengthAdjust="spacingAndGlyphs">100</text>
<text x="33.9" y="714.95" font-size="12.7" text-anchor="end" textLength="18.8" lengthAdjust="spacingAndGlyphs">200</text>
<text x="33.9" y="660.45" font-size="12.7" text-anchor="end" textLength="18.8" lengthAdjust="spacingAndGlyphs">300</text>
<rect x="410.4" y="635.5" width="263.1" height="211.4" fill="none" stroke="#5e5e5e" stroke-width="1.25"/>
<path d="M410.4 846.9v-4.2M410.4 635.5v4.2M476.17 846.9v-4.2M476.17 635.5v4.2M541.95 846.9v-4.2M541.95 635.5v4.2M607.73 846.9v-4.2M607.73 635.5v4.2M673.5 846.9v-4.2M673.5 635.5v4.2M443.29 846.9v-2.3M443.29 635.5v2.3M509.06 846.9v-2.3M509.06 635.5v2.3M574.84 846.9v-2.3M574.84 635.5v2.3M640.61 846.9v-2.3M640.61 635.5v2.3M410.4 846.9h4.2M673.5 846.9h-4.2M410.4 781.85h4.2M673.5 781.85h-4.2M410.4 716.81h4.2M673.5 716.81h-4.2M410.4 651.76h4.2M673.5 651.76h-4.2M410.4 814.38h2.3M673.5 814.38h-2.3M410.4 749.33h2.3M673.5 749.33h-2.3M410.4 684.28h2.3M673.5 684.28h-2.3" stroke="#5e5e5e" stroke-width="1.2" fill="none"/>
<text x="410.4" y="861.2" font-size="12.7" text-anchor="middle" textLength="18.8" lengthAdjust="spacingAndGlyphs">720</text>
<text x="476.17" y="861.2" font-size="12.7" text-anchor="middle" textLength="24.87" lengthAdjust="spacingAndGlyphs">1080</text>
<text x="541.95" y="861.2" font-size="12.7" text-anchor="middle" textLength="24.87" lengthAdjust="spacingAndGlyphs">1440</text>
<text x="607.73" y="861.2" font-size="12.7" text-anchor="middle" textLength="24.87" lengthAdjust="spacingAndGlyphs">1800</text>
<text x="673.5" y="861.2" font-size="12.7" text-anchor="middle" textLength="24.87" lengthAdjust="spacingAndGlyphs">2160</text>
<text x="405.8" y="850.7" font-size="12.7" text-anchor="end" textLength="24.87" lengthAdjust="spacingAndGlyphs">2000</text>
<text x="405.8" y="785.65" font-size="12.7" text-anchor="end" textLength="24.87" lengthAdjust="spacingAndGlyphs">6000</text>
<text x="405.8" y="720.61" font-size="12.7" text-anchor="end" textLength="30.93" lengthAdjust="spacingAndGlyphs">10000</text>
<text x="405.8" y="655.56" font-size="12.7" text-anchor="end" textLength="30.93" lengthAdjust="spacingAndGlyphs">14000</text>
<rect x="74.6" y="15" width="28.7" height="1" fill="#ff7474"/>
<rect x="74.6" y="16" width="28.7" height="1" fill="#ff7474"/>
<rect x="74.6" y="31" width="28.7" height="1" fill="#9a9aff"/>
<text x="106.5" y="19.9" font-size="12.7" textLength="118.4" lengthAdjust="spacingAndGlyphs">Load controlled manner</text>
<text x="106.5" y="35.7" font-size="12.7" textLength="161.3" lengthAdjust="spacingAndGlyphs">Displacement controlled manner</text>
<rect x="397.7" y="20" width="28.2" height="1" fill="#ff7878"/>
<rect x="397.7" y="35" width="28.2" height="1" fill="#5555ff"/>
<text x="429.4" y="24.7" font-size="12.7" textLength="118.4" lengthAdjust="spacingAndGlyphs">Load controlled manner</text>
<text x="429.4" y="40.2" font-size="12.7" textLength="161.3" lengthAdjust="spacingAndGlyphs">Displacement controlled manner</text>
<rect x="70.2" y="346" width="27" height="1" fill="#ff7878"/>
<rect x="70.2" y="361" width="27" height="1" fill="#4d4dff"/>
<rect x="70.2" y="360" width="27" height="1" fill="#d0d0ff"/>
<text x="101.2" y="350.7" font-size="12.7" textLength="114.9" lengthAdjust="spacingAndGlyphs">Load controlled manner</text>
<text x="101.2" y="365.7" font-size="12.7" textLength="156.3" lengthAdjust="spacingAndGlyphs">Displacement controlled manner</text>
<rect x="445.2" y="331" width="27" height="1" fill="#ff3a3a"/>
<rect x="445.2" y="332" width="27" height="1" fill="#ffb4b4"/>
<rect x="445.2" y="346" width="27" height="1" fill="#a0a0ff"/>
<text x="476.2" y="336.2" font-size="12.7" textLength="114.9" lengthAdjust="spacingAndGlyphs">Load controlled manner</text>
<text x="476.2" y="350.4" font-size="12.7" textLength="156.3" lengthAdjust="spacingAndGlyphs">Displacement controlled manner</text>
<rect x="60" y="646" width="27.2" height="1" fill="#ffc4c4"/>
<rect x="60" y="647" width="27.2" height="1" fill="#ffa0a0"/>
<rect x="60" y="662" width="27.2" height="1" fill="#9898ff"/>
<text x="91.8" y="651.6" font-size="12.7" textLength="118.4" lengthAdjust="spacingAndGlyphs">Load controlled manner</text>
<text x="91.8" y="666.4" font-size="12.7" textLength="160.9" lengthAdjust="spacingAndGlyphs">Displacement controlled manner</text>
<rect x="420" y="655" width="26.6" height="1" fill="#ff9090"/>
<rect x="420" y="670" width="26.6" height="1" fill="#2020ff"/>
<text x="450.3" y="660.3" font-size="12.7" textLength="114.9" lengthAdjust="spacingAndGlyphs">Load controlled manner</text>
<text x="450.3" y="674.8" font-size="12.7" textLength="156.3" lengthAdjust="spacingAndGlyphs">Displacement controlled manner</text>
<text x="-0.4" y="21.2" font-size="16.3" font-weight="bold" textLength="20.5" lengthAdjust="spacingAndGlyphs">(a)</text>
<text x="331" y="21.2" font-size="16.8" font-weight="bold" textLength="21.3" lengthAdjust="spacingAndGlyphs">(b)</text>
<text x="-0.3" y="329.8" font-size="17.6" font-weight="bold" textLength="19.4" lengthAdjust="spacingAndGlyphs">(c)</text>
<text x="339.6" y="329.8" font-size="17.2" font-weight="bold" textLength="18.2" lengthAdjust="spacingAndGlyphs">(d)</text>
<text x="-0.3" y="638.7" font-size="17.6" font-weight="bold" textLength="19.4" lengthAdjust="spacingAndGlyphs">(e)</text>
<text x="351.2" y="653.4" font-size="17.2" font-weight="bold" textLength="17.8" lengthAdjust="spacingAndGlyphs">(f)</text>
<text x="161.9" y="253.6" font-size="13.2" textLength="55.6" lengthAdjust="spacingAndGlyphs">Angle(deg)</text>
<text x="498.7" y="251.1" font-size="13.2" textLength="55.7" lengthAdjust="spacingAndGlyphs">Angle(deg)</text>
<text x="164" y="568.9" font-size="13.2" textLength="54.6" lengthAdjust="spacingAndGlyphs">Angle(deg)</text>
<text x="495.2" y="565.8" font-size="13.2" textLength="54.2" lengthAdjust="spacingAndGlyphs">Angle(deg)</text>
<text x="146.3" y="882.4" font-size="13.2" textLength="55.8" lengthAdjust="spacingAndGlyphs">Angle(deg)</text>
<text x="514.7" y="880.3" font-size="13.2" textLength="54.2" lengthAdjust="spacingAndGlyphs">Angle(deg)</text>
<text transform="translate(24,154) rotate(-90)" font-size="12.8" textLength="71.5" lengthAdjust="spacingAndGlyphs" style="white-space:pre">Elastic  energy</text>
<text transform="translate(24,76.7) rotate(-90)" font-size="12.8" textLength="17.8" lengthAdjust="spacingAndGlyphs" style="white-space:pre">( J )</text>
<text transform="translate(358,166.4) rotate(-90)" font-size="12.8" textLength="87.4" lengthAdjust="spacingAndGlyphs" style="white-space:pre" stroke="#1c1c1c" stroke-width="0.3">Frictional  energy</text>
<text transform="translate(358,72.2) rotate(-90)" font-size="12.8" textLength="16.6" lengthAdjust="spacingAndGlyphs" style="white-space:pre">( J )</text>
<text transform="translate(18.3,481.1) rotate(-90)" font-size="12.8" textLength="66.7" lengthAdjust="spacingAndGlyphs" style="white-space:pre" stroke="#1c1c1c" stroke-width="0.15">Damp  energy</text>
<text transform="translate(18.3,407) rotate(-90)" font-size="12.8" textLength="16.1" lengthAdjust="spacingAndGlyphs" style="white-space:pre">( J )</text>
<text transform="translate(361.1,464.4) rotate(-90)" font-size="12.8" textLength="86.9" lengthAdjust="spacingAndGlyphs" style="white-space:pre" stroke="#1c1c1c" stroke-width="0.3">Kinetic energy (J)</text>
<text transform="translate(9.5,779.4) rotate(-90)" font-size="12.8" textLength="102.8" lengthAdjust="spacingAndGlyphs" style="white-space:pre" stroke="#1c1c1c" stroke-width="0.3">Adhesive  energy (J)</text>
<text transform="translate(367.9,786.7) rotate(-90)" font-size="12.8" textLength="61.7" lengthAdjust="spacingAndGlyphs" style="white-space:pre" stroke="#1c1c1c" stroke-width="0.15">Total energy</text>
<text transform="translate(367.9,718.3) rotate(-90)" font-size="12.8" textLength="16.2" lengthAdjust="spacingAndGlyphs" style="white-space:pre">( J )</text>
</svg></body></html>
